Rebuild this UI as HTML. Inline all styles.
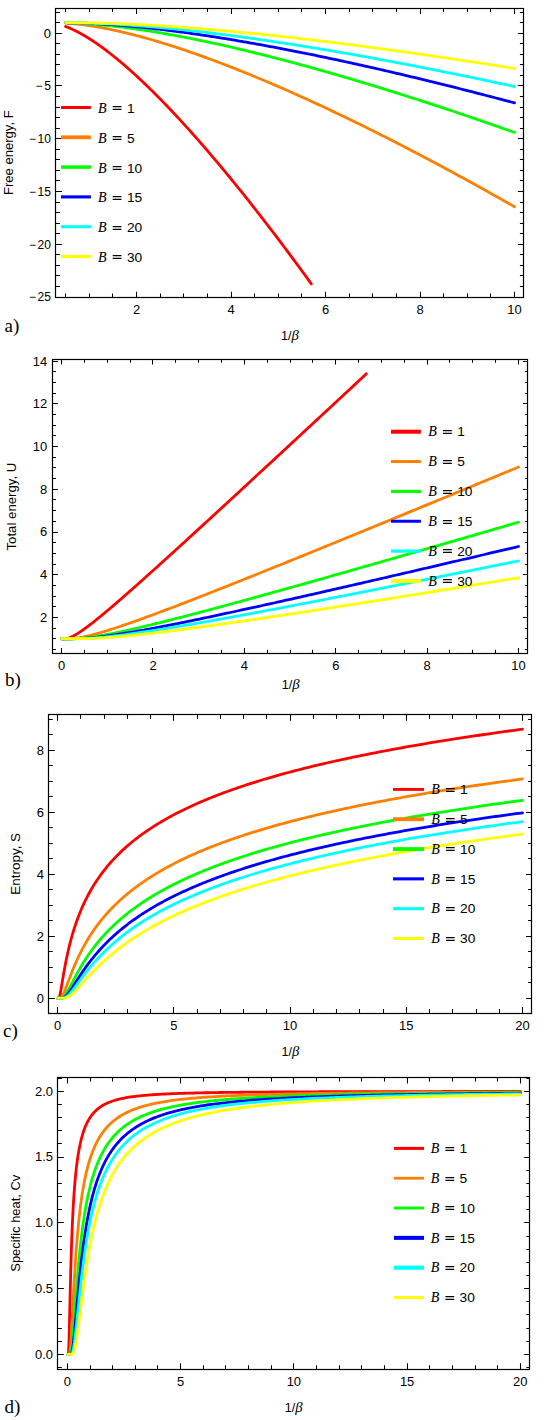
<!DOCTYPE html>
<html><head><meta charset="utf-8"><style>
html,body{margin:0;padding:0;background:#fff;}
svg{display:block;}
.t{font-family:"Liberation Sans",sans-serif;font-size:12px;fill:#000;}
.al{font-family:"Liberation Sans",sans-serif;font-size:12px;fill:#000;}
.beta{font-family:"Liberation Serif",serif;font-style:italic;font-size:14px;}
.pl{font-family:"Liberation Serif",serif;font-size:19px;fill:#000;}
.lg{font-family:"Liberation Sans",sans-serif;font-size:13px;fill:#000;}
.bi{font-family:"Liberation Serif",serif;font-style:italic;font-size:14px;fill:#000;stroke:#000;stroke-width:0.1px;}
</style></head><body>
<svg width="544" height="1420" viewBox="0 0 544 1420">
<rect width="544" height="1420" fill="#fff"/>
<clipPath id="clipa"><rect x="55.50" y="8.50" width="467.90" height="288.60"/></clipPath>
<g clip-path="url(#clipa)" fill="none" stroke-width="2.8" stroke-linejoin="round" stroke-linecap="round">
<path d="M65.62,26.51 L65.67,26.53 L65.76,26.56 L65.88,26.61 L66.03,26.66 L66.21,26.73 L66.40,26.80 L66.62,26.89 L66.86,26.98 L67.11,27.08 L67.39,27.18 L67.68,27.30 L67.98,27.42 L68.30,27.55 L68.64,27.69 L68.99,27.84 L69.36,27.99 L69.74,28.15 L70.13,28.32 L70.54,28.50 L70.96,28.68 L71.40,28.88 L71.84,29.08 L72.30,29.29 L72.77,29.50 L73.25,29.73 L73.75,29.96 L74.25,30.21 L74.77,30.46 L75.30,30.72 L75.84,30.99 L76.39,31.26 L76.95,31.55 L77.52,31.84 L78.10,32.15 L78.69,32.46 L79.30,32.78 L79.91,33.11 L80.53,33.45 L81.16,33.80 L81.81,34.16 L82.46,34.53 L83.12,34.91 L83.79,35.30 L84.47,35.70 L85.16,36.11 L85.86,36.52 L86.57,36.95 L87.29,37.39 L88.01,37.84 L88.75,38.30 L89.49,38.77 L90.25,39.25 L91.01,39.74 L91.78,40.24 L92.56,40.75 L93.35,41.27 L94.14,41.80 L94.95,42.34 L95.76,42.89 L96.58,43.46 L97.41,44.03 L98.25,44.62 L99.09,45.22 L99.95,45.82 L100.81,46.44 L101.68,47.07 L102.56,47.71 L103.44,48.36 L104.34,49.03 L105.24,49.70 L106.15,50.38 L107.07,51.08 L107.99,51.79 L108.92,52.51 L109.86,53.24 L110.81,53.98 L111.77,54.73 L112.73,55.50 L113.70,56.27 L114.67,57.06 L115.66,57.86 L116.65,58.67 L117.65,59.49 L118.66,60.33 L119.67,61.17 L120.69,62.03 L121.72,62.90 L122.76,63.78 L123.80,64.67 L124.85,65.58 L125.90,66.49 L126.97,67.42 L128.04,68.36 L129.11,69.31 L130.20,70.28 L131.29,71.25 L132.39,72.24 L133.49,73.24 L134.60,74.25 L135.72,75.27 L136.85,76.30 L137.98,77.35 L139.12,78.41 L140.26,79.48 L141.41,80.56 L142.57,81.66 L143.74,82.76 L144.91,83.88 L146.08,85.01 L147.27,86.16 L148.46,87.31 L149.66,88.48 L150.86,89.66 L152.07,90.85 L153.29,92.05 L154.51,93.27 L155.74,94.49 L156.97,95.73 L158.22,96.98 L159.46,98.25 L160.72,99.52 L161.98,100.81 L163.25,102.11 L164.52,103.43 L165.80,104.75 L167.08,106.09 L168.37,107.44 L169.67,108.80 L170.98,110.17 L172.29,111.56 L173.60,112.95 L174.92,114.36 L176.25,115.79 L177.58,117.22 L178.92,118.67 L180.27,120.12 L181.62,121.60 L182.98,123.08 L184.34,124.57 L185.71,126.08 L187.09,127.60 L188.47,129.13 L189.86,130.68 L191.25,132.24 L192.65,133.80 L194.05,135.38 L195.46,136.98 L196.88,138.58 L198.30,140.20 L199.73,141.83 L201.16,143.47 L202.60,145.13 L204.05,146.80 L205.50,148.47 L206.95,150.17 L208.41,151.87 L209.88,153.59 L211.35,155.31 L212.83,157.05 L214.32,158.81 L215.81,160.57 L217.30,162.35 L218.80,164.14 L220.31,165.94 L221.82,167.75 L223.34,169.58 L224.86,171.42 L226.39,173.27 L227.92,175.13 L229.46,177.00 L231.01,178.89 L232.56,180.79 L234.11,182.70 L235.67,184.63 L237.24,186.56 L238.81,188.51 L240.39,190.47 L241.97,192.44 L243.56,194.43 L245.15,196.43 L246.75,198.44 L248.35,200.46 L249.96,202.49 L251.58,204.54 L253.20,206.60 L254.82,208.67 L256.45,210.75 L258.09,212.84 L259.73,214.95 L261.37,217.07 L263.03,219.20 L264.68,221.35 L266.34,223.50 L268.01,225.67 L269.68,227.85 L271.36,230.04 L273.04,232.25 L274.73,234.46 L276.42,236.69 L278.12,238.93 L279.82,241.19 L281.53,243.45 L283.24,245.73 L284.96,248.02 L286.68,250.32 L288.41,252.64 L290.14,254.96 L291.88,257.30 L293.62,259.65 L295.37,262.01 L297.12,264.39 L298.88,266.78 L300.64,269.18 L302.41,271.59 L304.18,274.01 L305.96,276.45 L307.74,278.89 L309.53,281.35 L311.32,283.82" stroke="#ff0000"/>
<path d="M65.62,23.10 L65.71,23.11 L65.87,23.12 L66.09,23.13 L66.37,23.15 L66.69,23.17 L67.05,23.19 L67.44,23.22 L67.88,23.25 L68.34,23.28 L68.84,23.32 L69.37,23.36 L69.93,23.41 L70.52,23.45 L71.14,23.50 L71.78,23.56 L72.45,23.62 L73.14,23.68 L73.86,23.75 L74.61,23.82 L75.38,23.89 L76.17,23.98 L76.98,24.06 L77.82,24.15 L78.68,24.25 L79.56,24.35 L80.46,24.45 L81.39,24.57 L82.33,24.68 L83.30,24.81 L84.28,24.94 L85.29,25.07 L86.31,25.21 L87.35,25.36 L88.42,25.51 L89.50,25.67 L90.60,25.84 L91.72,26.01 L92.86,26.19 L94.01,26.38 L95.19,26.57 L96.38,26.77 L97.59,26.98 L98.81,27.19 L100.06,27.42 L101.32,27.64 L102.59,27.88 L103.89,28.13 L105.20,28.38 L106.53,28.64 L107.87,28.91 L109.23,29.18 L110.61,29.46 L112.00,29.75 L113.40,30.05 L114.83,30.36 L116.27,30.68 L117.72,31.00 L119.19,31.33 L120.68,31.67 L122.18,32.02 L123.69,32.38 L125.22,32.74 L126.77,33.11 L128.33,33.50 L129.91,33.89 L131.49,34.29 L133.10,34.69 L134.72,35.11 L136.35,35.54 L138.00,35.97 L139.66,36.41 L141.33,36.86 L143.02,37.33 L144.73,37.80 L146.44,38.27 L148.17,38.76 L149.92,39.26 L151.68,39.76 L153.45,40.28 L155.24,40.80 L157.03,41.33 L158.85,41.88 L160.67,42.43 L162.51,42.99 L164.36,43.56 L166.23,44.14 L168.11,44.72 L170.00,45.32 L171.90,45.93 L173.82,46.54 L175.75,47.17 L177.69,47.80 L179.65,48.45 L181.61,49.10 L183.60,49.76 L185.59,50.43 L187.59,51.12 L189.61,51.81 L191.64,52.51 L193.69,53.22 L195.74,53.94 L197.81,54.67 L199.89,55.40 L201.98,56.15 L204.08,56.91 L206.20,57.68 L208.33,58.45 L210.47,59.24 L212.62,60.03 L214.78,60.84 L216.96,61.65 L219.14,62.48 L221.34,63.31 L223.55,64.16 L225.78,65.01 L228.01,65.87 L230.26,66.74 L232.51,67.63 L234.78,68.52 L237.06,69.42 L239.35,70.33 L241.66,71.25 L243.97,72.18 L246.30,73.12 L248.63,74.07 L250.98,75.03 L253.34,76.00 L255.71,76.98 L258.09,77.97 L260.49,78.96 L262.89,79.97 L265.30,80.99 L267.73,82.02 L270.17,83.05 L272.61,84.10 L275.07,85.16 L277.54,86.22 L280.02,87.30 L282.51,88.38 L285.02,89.48 L287.53,90.59 L290.05,91.70 L292.59,92.82 L295.13,93.96 L297.69,95.10 L300.25,96.26 L302.83,97.42 L305.42,98.59 L308.01,99.78 L310.62,100.97 L313.24,102.17 L315.87,103.38 L318.51,104.61 L321.16,105.84 L323.82,107.08 L326.49,108.33 L329.17,109.59 L331.86,110.86 L334.56,112.14 L337.27,113.43 L339.99,114.73 L342.73,116.04 L345.47,117.36 L348.22,118.69 L350.98,120.03 L353.75,121.38 L356.54,122.73 L359.33,124.10 L362.13,125.48 L364.94,126.87 L367.77,128.26 L370.60,129.67 L373.44,131.09 L376.29,132.51 L379.15,133.95 L382.02,135.40 L384.91,136.85 L387.80,138.32 L390.70,139.79 L393.61,141.28 L396.53,142.77 L399.46,144.28 L402.40,145.79 L405.35,147.31 L408.31,148.85 L411.27,150.39 L414.25,151.94 L417.24,153.50 L420.24,155.08 L423.24,156.66 L426.26,158.25 L429.29,159.85 L432.32,161.46 L435.37,163.08 L438.42,164.71 L441.48,166.35 L444.56,168.00 L447.64,169.66 L450.73,171.33 L453.83,173.01 L456.94,174.70 L460.06,176.40 L463.19,178.10 L466.33,179.82 L469.48,181.55 L472.63,183.28 L475.80,185.03 L478.97,186.79 L482.16,188.55 L485.35,190.33 L488.55,192.11 L491.76,193.91 L494.99,195.71 L498.22,197.52 L501.45,199.35 L504.70,201.18 L507.96,203.02 L511.23,204.88 L514.50,206.74" stroke="#ff7f00"/>
<path d="M65.62,22.78 L65.71,22.79 L65.87,22.79 L66.09,22.79 L66.37,22.80 L66.69,22.81 L67.05,22.82 L67.44,22.83 L67.88,22.84 L68.34,22.85 L68.84,22.87 L69.37,22.88 L69.93,22.90 L70.52,22.92 L71.14,22.94 L71.78,22.96 L72.45,22.98 L73.14,23.01 L73.86,23.04 L74.61,23.07 L75.38,23.10 L76.17,23.14 L76.98,23.17 L77.82,23.21 L78.68,23.26 L79.56,23.30 L80.46,23.35 L81.39,23.40 L82.33,23.45 L83.30,23.51 L84.28,23.57 L85.29,23.63 L86.31,23.70 L87.35,23.77 L88.42,23.84 L89.50,23.92 L90.60,24.00 L91.72,24.08 L92.86,24.17 L94.01,24.26 L95.19,24.35 L96.38,24.45 L97.59,24.56 L98.81,24.66 L100.06,24.78 L101.32,24.89 L102.59,25.01 L103.89,25.14 L105.20,25.26 L106.53,25.40 L107.87,25.53 L109.23,25.68 L110.61,25.82 L112.00,25.98 L113.40,26.13 L114.83,26.29 L116.27,26.46 L117.72,26.63 L119.19,26.81 L120.68,26.99 L122.18,27.17 L123.69,27.36 L125.22,27.56 L126.77,27.76 L128.33,27.97 L129.91,28.18 L131.49,28.39 L133.10,28.62 L134.72,28.84 L136.35,29.08 L138.00,29.31 L139.66,29.56 L141.33,29.81 L143.02,30.06 L144.73,30.32 L146.44,30.58 L148.17,30.86 L149.92,31.13 L151.68,31.41 L153.45,31.70 L155.24,31.99 L157.03,32.29 L158.85,32.60 L160.67,32.91 L162.51,33.22 L164.36,33.54 L166.23,33.87 L168.11,34.20 L170.00,34.54 L171.90,34.89 L173.82,35.24 L175.75,35.59 L177.69,35.96 L179.65,36.33 L181.61,36.70 L183.60,37.08 L185.59,37.47 L187.59,37.86 L189.61,38.25 L191.64,38.66 L193.69,39.07 L195.74,39.48 L197.81,39.91 L199.89,40.33 L201.98,40.77 L204.08,41.21 L206.20,41.65 L208.33,42.11 L210.47,42.56 L212.62,43.03 L214.78,43.50 L216.96,43.98 L219.14,44.46 L221.34,44.95 L223.55,45.44 L225.78,45.94 L228.01,46.45 L230.26,46.96 L232.51,47.48 L234.78,48.01 L237.06,48.54 L239.35,49.08 L241.66,49.62 L243.97,50.17 L246.30,50.73 L248.63,51.29 L250.98,51.86 L253.34,52.44 L255.71,53.02 L258.09,53.61 L260.49,54.20 L262.89,54.80 L265.30,55.41 L267.73,56.02 L270.17,56.64 L272.61,57.27 L275.07,57.90 L277.54,58.54 L280.02,59.18 L282.51,59.83 L285.02,60.49 L287.53,61.15 L290.05,61.82 L292.59,62.50 L295.13,63.18 L297.69,63.87 L300.25,64.56 L302.83,65.26 L305.42,65.97 L308.01,66.68 L310.62,67.40 L313.24,68.13 L315.87,68.86 L318.51,69.60 L321.16,70.35 L323.82,71.10 L326.49,71.86 L329.17,72.62 L331.86,73.39 L334.56,74.17 L337.27,74.95 L339.99,75.74 L342.73,76.54 L345.47,77.34 L348.22,78.15 L350.98,78.96 L353.75,79.78 L356.54,80.61 L359.33,81.45 L362.13,82.29 L364.94,83.13 L367.77,83.99 L370.60,84.85 L373.44,85.71 L376.29,86.59 L379.15,87.46 L382.02,88.35 L384.91,89.24 L387.80,90.14 L390.70,91.04 L393.61,91.95 L396.53,92.87 L399.46,93.79 L402.40,94.72 L405.35,95.66 L408.31,96.60 L411.27,97.55 L414.25,98.50 L417.24,99.47 L420.24,100.43 L423.24,101.41 L426.26,102.39 L429.29,103.38 L432.32,104.37 L435.37,105.37 L438.42,106.37 L441.48,107.39 L444.56,108.41 L447.64,109.43 L450.73,110.46 L453.83,111.50 L456.94,112.54 L460.06,113.59 L463.19,114.65 L466.33,115.71 L469.48,116.78 L472.63,117.86 L475.80,118.94 L478.97,120.03 L482.16,121.12 L485.35,122.23 L488.55,123.33 L491.76,124.45 L494.99,125.57 L498.22,126.69 L501.45,127.83 L504.70,128.97 L507.96,130.11 L511.23,131.26 L514.50,132.42" stroke="#00ff00"/>
<path d="M65.62,22.71 L65.71,22.71 L65.87,22.71 L66.09,22.71 L66.37,22.72 L66.69,22.72 L67.05,22.72 L67.44,22.73 L67.88,22.74 L68.34,22.74 L68.84,22.75 L69.37,22.76 L69.93,22.77 L70.52,22.78 L71.14,22.79 L71.78,22.80 L72.45,22.81 L73.14,22.83 L73.86,22.84 L74.61,22.86 L75.38,22.88 L76.17,22.90 L76.98,22.92 L77.82,22.94 L78.68,22.97 L79.56,22.99 L80.46,23.02 L81.39,23.05 L82.33,23.08 L83.30,23.12 L84.28,23.15 L85.29,23.19 L86.31,23.23 L87.35,23.27 L88.42,23.32 L89.50,23.37 L90.60,23.42 L91.72,23.47 L92.86,23.52 L94.01,23.58 L95.19,23.64 L96.38,23.70 L97.59,23.77 L98.81,23.84 L100.06,23.91 L101.32,23.98 L102.59,24.06 L103.89,24.14 L105.20,24.23 L106.53,24.31 L107.87,24.40 L109.23,24.50 L110.61,24.59 L112.00,24.69 L113.40,24.80 L114.83,24.90 L116.27,25.02 L117.72,25.13 L119.19,25.25 L120.68,25.37 L122.18,25.49 L123.69,25.62 L125.22,25.75 L126.77,25.89 L128.33,26.03 L129.91,26.17 L131.49,26.32 L133.10,26.47 L134.72,26.63 L136.35,26.79 L138.00,26.95 L139.66,27.12 L141.33,27.29 L143.02,27.46 L144.73,27.64 L146.44,27.83 L148.17,28.01 L149.92,28.21 L151.68,28.40 L153.45,28.60 L155.24,28.81 L157.03,29.02 L158.85,29.23 L160.67,29.44 L162.51,29.67 L164.36,29.89 L166.23,30.12 L168.11,30.36 L170.00,30.59 L171.90,30.84 L173.82,31.09 L175.75,31.34 L177.69,31.59 L179.65,31.85 L181.61,32.12 L183.60,32.39 L185.59,32.66 L187.59,32.94 L189.61,33.22 L191.64,33.51 L193.69,33.80 L195.74,34.10 L197.81,34.40 L199.89,34.71 L201.98,35.02 L204.08,35.33 L206.20,35.65 L208.33,35.98 L210.47,36.31 L212.62,36.64 L214.78,36.98 L216.96,37.32 L219.14,37.67 L221.34,38.02 L223.55,38.38 L225.78,38.74 L228.01,39.11 L230.26,39.48 L232.51,39.85 L234.78,40.23 L237.06,40.62 L239.35,41.01 L241.66,41.40 L243.97,41.80 L246.30,42.21 L248.63,42.62 L250.98,43.03 L253.34,43.45 L255.71,43.87 L258.09,44.30 L260.49,44.73 L262.89,45.17 L265.30,45.62 L267.73,46.06 L270.17,46.52 L272.61,46.97 L275.07,47.43 L277.54,47.90 L280.02,48.37 L282.51,48.85 L285.02,49.33 L287.53,49.82 L290.05,50.31 L292.59,50.80 L295.13,51.30 L297.69,51.81 L300.25,52.32 L302.83,52.84 L305.42,53.36 L308.01,53.88 L310.62,54.41 L313.24,54.95 L315.87,55.49 L318.51,56.03 L321.16,56.58 L323.82,57.13 L326.49,57.69 L329.17,58.26 L331.86,58.83 L334.56,59.40 L337.27,59.98 L339.99,60.56 L342.73,61.15 L345.47,61.75 L348.22,62.35 L350.98,62.95 L353.75,63.56 L356.54,64.17 L359.33,64.79 L362.13,65.41 L364.94,66.04 L367.77,66.68 L370.60,67.31 L373.44,67.96 L376.29,68.60 L379.15,69.26 L382.02,69.92 L384.91,70.58 L387.80,71.25 L390.70,71.92 L393.61,72.60 L396.53,73.28 L399.46,73.97 L402.40,74.66 L405.35,75.36 L408.31,76.06 L411.27,76.77 L414.25,77.48 L417.24,78.20 L420.24,78.92 L423.24,79.65 L426.26,80.38 L429.29,81.11 L432.32,81.86 L435.37,82.60 L438.42,83.36 L441.48,84.11 L444.56,84.87 L447.64,85.64 L450.73,86.41 L453.83,87.19 L456.94,87.97 L460.06,88.76 L463.19,89.55 L466.33,90.35 L469.48,91.15 L472.63,91.95 L475.80,92.77 L478.97,93.58 L482.16,94.40 L485.35,95.23 L488.55,96.06 L491.76,96.90 L494.99,97.74 L498.22,98.58 L501.45,99.43 L504.70,100.29 L507.96,101.15 L511.23,102.02 L514.50,102.89" stroke="#0000ff"/>
<path d="M65.62,22.68 L65.71,22.68 L65.87,22.68 L66.09,22.68 L66.37,22.68 L66.69,22.69 L67.05,22.69 L67.44,22.69 L67.88,22.69 L68.34,22.70 L68.84,22.70 L69.37,22.71 L69.93,22.71 L70.52,22.72 L71.14,22.73 L71.78,22.73 L72.45,22.74 L73.14,22.75 L73.86,22.76 L74.61,22.77 L75.38,22.78 L76.17,22.80 L76.98,22.81 L77.82,22.82 L78.68,22.84 L79.56,22.86 L80.46,22.88 L81.39,22.90 L82.33,22.92 L83.30,22.94 L84.28,22.96 L85.29,22.99 L86.31,23.02 L87.35,23.05 L88.42,23.08 L89.50,23.11 L90.60,23.15 L91.72,23.18 L92.86,23.22 L94.01,23.26 L95.19,23.30 L96.38,23.35 L97.59,23.39 L98.81,23.44 L100.06,23.49 L101.32,23.55 L102.59,23.60 L103.89,23.66 L105.20,23.72 L106.53,23.79 L107.87,23.85 L109.23,23.92 L110.61,23.99 L112.00,24.06 L113.40,24.14 L114.83,24.22 L116.27,24.30 L117.72,24.38 L119.19,24.47 L120.68,24.56 L122.18,24.65 L123.69,24.75 L125.22,24.85 L126.77,24.95 L128.33,25.05 L129.91,25.16 L131.49,25.27 L133.10,25.39 L134.72,25.50 L136.35,25.62 L138.00,25.75 L139.66,25.87 L141.33,26.00 L143.02,26.14 L144.73,26.27 L146.44,26.41 L148.17,26.55 L149.92,26.70 L151.68,26.85 L153.45,27.00 L155.24,27.16 L157.03,27.32 L158.85,27.48 L160.67,27.65 L162.51,27.82 L164.36,27.99 L166.23,28.17 L168.11,28.35 L170.00,28.53 L171.90,28.72 L173.82,28.91 L175.75,29.11 L177.69,29.31 L179.65,29.51 L181.61,29.71 L183.60,29.92 L185.59,30.14 L187.59,30.35 L189.61,30.57 L191.64,30.80 L193.69,31.03 L195.74,31.26 L197.81,31.49 L199.89,31.73 L201.98,31.97 L204.08,32.22 L206.20,32.47 L208.33,32.73 L210.47,32.98 L212.62,33.25 L214.78,33.51 L216.96,33.78 L219.14,34.05 L221.34,34.33 L223.55,34.61 L225.78,34.90 L228.01,35.19 L230.26,35.48 L232.51,35.77 L234.78,36.07 L237.06,36.38 L239.35,36.69 L241.66,37.00 L243.97,37.32 L246.30,37.64 L248.63,37.96 L250.98,38.29 L253.34,38.62 L255.71,38.95 L258.09,39.29 L260.49,39.64 L262.89,39.99 L265.30,40.34 L267.73,40.69 L270.17,41.05 L272.61,41.42 L275.07,41.78 L277.54,42.15 L280.02,42.53 L282.51,42.91 L285.02,43.29 L287.53,43.68 L290.05,44.07 L292.59,44.47 L295.13,44.87 L297.69,45.27 L300.25,45.68 L302.83,46.09 L305.42,46.51 L308.01,46.93 L310.62,47.35 L313.24,47.78 L315.87,48.21 L318.51,48.65 L321.16,49.09 L323.82,49.53 L326.49,49.98 L329.17,50.43 L331.86,50.89 L334.56,51.35 L337.27,51.82 L339.99,52.28 L342.73,52.76 L345.47,53.23 L348.22,53.72 L350.98,54.20 L353.75,54.69 L356.54,55.18 L359.33,55.68 L362.13,56.18 L364.94,56.69 L367.77,57.20 L370.60,57.71 L373.44,58.23 L376.29,58.75 L379.15,59.28 L382.02,59.81 L384.91,60.34 L387.80,60.88 L390.70,61.42 L393.61,61.97 L396.53,62.52 L399.46,63.08 L402.40,63.64 L405.35,64.20 L408.31,64.77 L411.27,65.34 L414.25,65.92 L417.24,66.50 L420.24,67.08 L423.24,67.67 L426.26,68.26 L429.29,68.86 L432.32,69.46 L435.37,70.06 L438.42,70.67 L441.48,71.28 L444.56,71.90 L447.64,72.52 L450.73,73.15 L453.83,73.78 L456.94,74.41 L460.06,75.05 L463.19,75.69 L466.33,76.34 L469.48,76.99 L472.63,77.64 L475.80,78.30 L478.97,78.96 L482.16,79.63 L485.35,80.30 L488.55,80.98 L491.76,81.66 L494.99,82.34 L498.22,83.03 L501.45,83.72 L504.70,84.42 L507.96,85.12 L511.23,85.82 L514.50,86.53" stroke="#00ffff"/>
<path d="M65.62,22.66 L65.71,22.66 L65.87,22.66 L66.09,22.66 L66.37,22.66 L66.69,22.66 L67.05,22.66 L67.44,22.66 L67.88,22.67 L68.34,22.67 L68.84,22.67 L69.37,22.67 L69.93,22.67 L70.52,22.68 L71.14,22.68 L71.78,22.68 L72.45,22.69 L73.14,22.69 L73.86,22.70 L74.61,22.70 L75.38,22.71 L76.17,22.71 L76.98,22.72 L77.82,22.73 L78.68,22.74 L79.56,22.74 L80.46,22.75 L81.39,22.77 L82.33,22.78 L83.30,22.79 L84.28,22.80 L85.29,22.82 L86.31,22.83 L87.35,22.85 L88.42,22.86 L89.50,22.88 L90.60,22.90 L91.72,22.92 L92.86,22.95 L94.01,22.97 L95.19,22.99 L96.38,23.02 L97.59,23.05 L98.81,23.08 L100.06,23.11 L101.32,23.14 L102.59,23.17 L103.89,23.21 L105.20,23.25 L106.53,23.28 L107.87,23.33 L109.23,23.37 L110.61,23.41 L112.00,23.46 L113.40,23.50 L114.83,23.55 L116.27,23.61 L117.72,23.66 L119.19,23.71 L120.68,23.77 L122.18,23.83 L123.69,23.89 L125.22,23.96 L126.77,24.02 L128.33,24.09 L129.91,24.16 L131.49,24.23 L133.10,24.31 L134.72,24.38 L136.35,24.46 L138.00,24.54 L139.66,24.63 L141.33,24.71 L143.02,24.80 L144.73,24.89 L146.44,24.98 L148.17,25.08 L149.92,25.18 L151.68,25.28 L153.45,25.38 L155.24,25.48 L157.03,25.59 L158.85,25.70 L160.67,25.81 L162.51,25.93 L164.36,26.05 L166.23,26.17 L168.11,26.29 L170.00,26.42 L171.90,26.55 L173.82,26.68 L175.75,26.81 L177.69,26.95 L179.65,27.08 L181.61,27.23 L183.60,27.37 L185.59,27.52 L187.59,27.67 L189.61,27.82 L191.64,27.98 L193.69,28.13 L195.74,28.29 L197.81,28.46 L199.89,28.62 L201.98,28.79 L204.08,28.97 L206.20,29.14 L208.33,29.32 L210.47,29.50 L212.62,29.68 L214.78,29.87 L216.96,30.06 L219.14,30.25 L221.34,30.45 L223.55,30.64 L225.78,30.84 L228.01,31.05 L230.26,31.25 L232.51,31.46 L234.78,31.68 L237.06,31.89 L239.35,32.11 L241.66,32.33 L243.97,32.56 L246.30,32.78 L248.63,33.01 L250.98,33.25 L253.34,33.48 L255.71,33.72 L258.09,33.97 L260.49,34.21 L262.89,34.46 L265.30,34.71 L267.73,34.97 L270.17,35.22 L272.61,35.48 L275.07,35.75 L277.54,36.01 L280.02,36.28 L282.51,36.56 L285.02,36.83 L287.53,37.11 L290.05,37.39 L292.59,37.68 L295.13,37.97 L297.69,38.26 L300.25,38.55 L302.83,38.85 L305.42,39.15 L308.01,39.45 L310.62,39.76 L313.24,40.07 L315.87,40.38 L318.51,40.70 L321.16,41.02 L323.82,41.34 L326.49,41.66 L329.17,41.99 L331.86,42.32 L334.56,42.66 L337.27,43.00 L339.99,43.34 L342.73,43.68 L345.47,44.03 L348.22,44.38 L350.98,44.73 L353.75,45.09 L356.54,45.45 L359.33,45.81 L362.13,46.18 L364.94,46.55 L367.77,46.92 L370.60,47.30 L373.44,47.68 L376.29,48.06 L379.15,48.44 L382.02,48.83 L384.91,49.23 L387.80,49.62 L390.70,50.02 L393.61,50.42 L396.53,50.82 L399.46,51.23 L402.40,51.64 L405.35,52.06 L408.31,52.47 L411.27,52.89 L414.25,53.32 L417.24,53.74 L420.24,54.17 L423.24,54.61 L426.26,55.04 L429.29,55.48 L432.32,55.93 L435.37,56.37 L438.42,56.82 L441.48,57.27 L444.56,57.73 L447.64,58.19 L450.73,58.65 L453.83,59.11 L456.94,59.58 L460.06,60.05 L463.19,60.53 L466.33,61.01 L469.48,61.49 L472.63,61.97 L475.80,62.46 L478.97,62.95 L482.16,63.44 L485.35,63.94 L488.55,64.44 L491.76,64.95 L494.99,65.45 L498.22,65.96 L501.45,66.48 L504.70,66.99 L507.96,67.51 L511.23,68.04 L514.50,68.56" stroke="#ffff00"/>
</g>
<path d="M136.50,297.10V291.70M136.50,8.50V13.90M231.50,297.10V291.70M231.50,8.50V13.90M325.50,297.10V291.70M325.50,8.50V13.90M420.50,297.10V291.70M420.50,8.50V13.90M514.50,297.10V291.70M514.50,8.50V13.90M65.50,297.10V293.60M65.50,8.50V12.00M89.50,297.10V293.60M89.50,8.50V12.00M112.50,297.10V293.60M112.50,8.50V12.00M160.50,297.10V293.60M160.50,8.50V12.00M183.50,297.10V293.60M183.50,8.50V12.00M207.50,297.10V293.60M207.50,8.50V12.00M254.50,297.10V293.60M254.50,8.50V12.00M278.50,297.10V293.60M278.50,8.50V12.00M301.50,297.10V293.60M301.50,8.50V12.00M349.50,297.10V293.60M349.50,8.50V12.00M372.50,297.10V293.60M372.50,8.50V12.00M396.50,297.10V293.60M396.50,8.50V12.00M443.50,297.10V293.60M443.50,8.50V12.00M467.50,297.10V293.60M467.50,8.50V12.00M490.50,297.10V293.60M490.50,8.50V12.00M55.50,297.50H61.90M523.40,297.50H517.90M55.50,244.50H61.90M523.40,244.50H517.90M55.50,191.50H61.90M523.40,191.50H517.90M55.50,138.50H61.90M523.40,138.50H517.90M55.50,85.50H61.90M523.40,85.50H517.90M55.50,33.50H61.90M523.40,33.50H517.90M55.50,286.50H59.90M523.40,286.50H519.90M55.50,275.50H59.90M523.40,275.50H519.90M55.50,265.50H59.90M523.40,265.50H519.90M55.50,254.50H59.90M523.40,254.50H519.90M55.50,233.50H59.90M523.40,233.50H519.90M55.50,223.50H59.90M523.40,223.50H519.90M55.50,212.50H59.90M523.40,212.50H519.90M55.50,202.50H59.90M523.40,202.50H519.90M55.50,180.50H59.90M523.40,180.50H519.90M55.50,170.50H59.90M523.40,170.50H519.90M55.50,159.50H59.90M523.40,159.50H519.90M55.50,149.50H59.90M523.40,149.50H519.90M55.50,128.50H59.90M523.40,128.50H519.90M55.50,117.50H59.90M523.40,117.50H519.90M55.50,107.50H59.90M523.40,107.50H519.90M55.50,96.50H59.90M523.40,96.50H519.90M55.50,75.50H59.90M523.40,75.50H519.90M55.50,64.50H59.90M523.40,64.50H519.90M55.50,54.50H59.90M523.40,54.50H519.90M55.50,43.50H59.90M523.40,43.50H519.90M55.50,22.50H59.90M523.40,22.50H519.90M55.50,12.50H59.90M523.40,12.50H519.90" stroke="#000" stroke-width="1.05" fill="none"/>
<rect x="55.50" y="8.50" width="468.00" height="289.00" fill="none" stroke="#000" stroke-width="1.2"/>
<text transform="translate(136.50,314.10) scale(1.080,1)" text-anchor="middle" class="t">2</text>
<text transform="translate(231.00,314.10) scale(1.080,1)" text-anchor="middle" class="t">4</text>
<text transform="translate(325.50,314.10) scale(1.080,1)" text-anchor="middle" class="t">6</text>
<text transform="translate(420.00,314.10) scale(1.080,1)" text-anchor="middle" class="t">8</text>
<text transform="translate(514.50,314.10) scale(1.080,1)" text-anchor="middle" class="t">10</text>
<text transform="translate(50.90,301.30) scale(1.000,1)" text-anchor="end" class="t">−<tspan dx="1.6">25</tspan></text>
<text transform="translate(50.90,248.54) scale(1.000,1)" text-anchor="end" class="t">−<tspan dx="1.6">20</tspan></text>
<text transform="translate(50.90,195.78) scale(1.000,1)" text-anchor="end" class="t">−<tspan dx="1.6">15</tspan></text>
<text transform="translate(50.90,143.02) scale(1.000,1)" text-anchor="end" class="t">−<tspan dx="1.6">10</tspan></text>
<text transform="translate(50.90,90.26) scale(1.000,1)" text-anchor="end" class="t">−<tspan dx="1.6">5</tspan></text>
<text transform="translate(50.90,37.50) scale(1.080,1)" text-anchor="end" class="t">0</text>
<text transform="translate(289.80,339.60) scale(1.05,1)" text-anchor="middle" class="t">1/<tspan class="beta">β</tspan></text>
<text transform="translate(12.60,152.70) rotate(-90) scale(1.090,1)" text-anchor="middle" class="al">Free energy, F</text>
<text x="4.50" y="332.00" class="pl">a)</text>
<path d="M61.00,107.50H90.90" stroke="#ff0000" stroke-width="3.00"/>
<text x="98.00" y="112.90" class="bi">B</text>
<path d="M112.70,106.00H121.50v1.3H112.70z M112.70,108.70H121.50v1.3H112.70z" fill="#000"/>
<text transform="translate(126.90,112.90) scale(1.060,1)" text-anchor="start" class="lg">1</text>
<path d="M61.00,137.30H90.90" stroke="#ff7f00" stroke-width="3.80"/>
<text x="98.00" y="142.70" class="bi">B</text>
<path d="M112.70,136.00H121.50v1.3H112.70z M112.70,138.70H121.50v1.3H112.70z" fill="#000"/>
<text transform="translate(126.90,142.70) scale(1.060,1)" text-anchor="start" class="lg">5</text>
<path d="M61.00,167.10H90.90" stroke="#00ff00" stroke-width="3.50"/>
<text x="98.00" y="172.50" class="bi">B</text>
<path d="M112.70,166.00H121.50v1.3H112.70z M112.70,168.70H121.50v1.3H112.70z" fill="#000"/>
<text transform="translate(126.90,172.50) scale(1.060,1)" text-anchor="start" class="lg">10</text>
<path d="M61.00,196.90H90.90" stroke="#0000ff" stroke-width="3.10"/>
<text x="98.00" y="202.30" class="bi">B</text>
<path d="M112.70,196.00H121.50v1.3H112.70z M112.70,198.70H121.50v1.3H112.70z" fill="#000"/>
<text transform="translate(126.90,202.30) scale(1.060,1)" text-anchor="start" class="lg">15</text>
<path d="M61.00,226.70H90.90" stroke="#00ffff" stroke-width="3.10"/>
<text x="98.00" y="232.10" class="bi">B</text>
<path d="M112.70,226.00H121.50v1.3H112.70z M112.70,228.70H121.50v1.3H112.70z" fill="#000"/>
<text transform="translate(126.90,232.10) scale(1.060,1)" text-anchor="start" class="lg">20</text>
<path d="M61.00,256.50H90.90" stroke="#ffff00" stroke-width="3.20"/>
<text x="98.00" y="261.90" class="bi">B</text>
<path d="M112.70,255.00H121.50v1.3H112.70z M112.70,257.70H121.50v1.3H112.70z" fill="#000"/>
<text transform="translate(126.90,261.90) scale(1.060,1)" text-anchor="start" class="lg">30</text>
<clipPath id="clipb"><rect x="52.55" y="359.40" width="474.85" height="293.70"/></clipPath>
<g clip-path="url(#clipb)" fill="none" stroke-width="2.8" stroke-linejoin="round" stroke-linecap="round">
<path d="M61.65,638.75 L61.70,638.75 L61.81,638.75 L61.96,638.75 L62.15,638.75 L62.37,638.75 L62.61,638.75 L62.88,638.75 L63.17,638.75 L63.49,638.75 L63.83,638.75 L64.19,638.74 L64.57,638.73 L64.97,638.72 L65.39,638.69 L65.82,638.64 L66.28,638.58 L66.75,638.51 L67.24,638.41 L67.74,638.28 L68.27,638.14 L68.80,637.97 L69.36,637.78 L69.92,637.57 L70.51,637.34 L71.11,637.08 L71.72,636.80 L72.34,636.50 L72.99,636.18 L73.64,635.84 L74.31,635.47 L74.99,635.09 L75.69,634.69 L76.40,634.26 L77.12,633.82 L77.85,633.36 L78.60,632.89 L79.36,632.39 L80.13,631.88 L80.92,631.35 L81.71,630.80 L82.52,630.24 L83.34,629.66 L84.17,629.07 L85.02,628.46 L85.87,627.83 L86.74,627.19 L87.62,626.54 L88.51,625.87 L89.41,625.18 L90.32,624.48 L91.25,623.77 L92.18,623.04 L93.12,622.30 L94.08,621.55 L95.05,620.78 L96.02,620.00 L97.01,619.21 L98.01,618.40 L99.02,617.58 L100.04,616.75 L101.06,615.91 L102.10,615.05 L103.15,614.18 L104.21,613.30 L105.28,612.41 L106.36,611.51 L107.45,610.59 L108.55,609.67 L109.66,608.73 L110.77,607.78 L111.90,606.82 L113.04,605.85 L114.19,604.87 L115.34,603.87 L116.51,602.87 L117.68,601.86 L118.87,600.83 L120.06,599.80 L121.26,598.75 L122.48,597.70 L123.70,596.63 L124.93,595.56 L126.17,594.47 L127.41,593.38 L128.67,592.27 L129.94,591.16 L131.21,590.03 L132.50,588.90 L133.79,587.76 L135.09,586.60 L136.40,585.44 L137.72,584.27 L139.05,583.09 L140.38,581.90 L141.73,580.70 L143.08,579.49 L144.44,578.27 L145.81,577.05 L147.19,575.81 L148.58,574.57 L149.97,573.32 L151.37,572.06 L152.79,570.79 L154.21,569.51 L155.63,568.22 L157.07,566.92 L158.51,565.62 L159.97,564.31 L161.43,562.99 L162.90,561.66 L164.37,560.32 L165.86,558.98 L167.35,557.62 L168.85,556.26 L170.36,554.89 L171.88,553.51 L173.40,552.13 L174.93,550.73 L176.47,549.33 L178.02,547.92 L179.58,546.50 L181.14,545.08 L182.71,543.64 L184.29,542.20 L185.88,540.75 L187.47,539.30 L189.07,537.83 L190.68,536.36 L192.30,534.88 L193.92,533.40 L195.55,531.90 L197.19,530.40 L198.84,528.89 L200.49,527.38 L202.16,525.85 L203.82,524.32 L205.50,522.78 L207.18,521.24 L208.88,519.68 L210.57,518.12 L212.28,516.55 L213.99,514.98 L215.71,513.40 L217.44,511.81 L219.17,510.21 L220.92,508.61 L222.67,507.00 L224.42,505.38 L226.18,503.76 L227.96,502.12 L229.73,500.49 L231.52,498.84 L233.31,497.19 L235.11,495.53 L236.91,493.86 L238.73,492.19 L240.55,490.51 L242.37,488.82 L244.21,487.13 L246.05,485.43 L247.89,483.72 L249.75,482.01 L251.61,480.29 L253.48,478.56 L255.35,476.83 L257.23,475.09 L259.12,473.34 L261.02,471.59 L262.92,469.83 L264.83,468.06 L266.75,466.29 L268.67,464.51 L270.60,462.72 L272.53,460.93 L274.48,459.13 L276.42,457.33 L278.38,455.52 L280.34,453.70 L282.31,451.87 L284.29,450.04 L286.27,448.20 L288.26,446.36 L290.25,444.51 L292.26,442.65 L294.27,440.79 L296.28,438.92 L298.30,437.05 L300.33,435.17 L302.36,433.28 L304.41,431.38 L306.45,429.48 L308.51,427.58 L310.57,425.67 L312.63,423.75 L314.71,421.82 L316.79,419.89 L318.87,417.96 L320.97,416.01 L323.06,414.06 L325.17,412.11 L327.28,410.15 L329.40,408.18 L331.52,406.21 L333.65,404.23 L335.79,402.24 L337.93,400.25 L340.08,398.25 L342.24,396.25 L344.40,394.24 L346.57,392.23 L348.74,390.21 L350.92,388.18 L353.11,386.15 L355.30,384.11 L357.50,382.06 L359.70,380.01 L361.91,377.96 L364.13,375.89 L366.35,373.83" stroke="#ff0000"/>
<path d="M61.65,638.75 L61.73,638.75 L61.89,638.75 L62.12,638.75 L62.40,638.75 L62.73,638.75 L63.09,638.75 L63.50,638.75 L63.94,638.75 L64.41,638.75 L64.92,638.75 L65.46,638.75 L66.03,638.75 L66.63,638.75 L67.25,638.75 L67.91,638.74 L68.59,638.73 L69.30,638.71 L70.03,638.69 L70.79,638.66 L71.57,638.62 L72.38,638.56 L73.21,638.50 L74.06,638.42 L74.93,638.33 L75.83,638.23 L76.75,638.11 L77.69,637.98 L78.65,637.83 L79.63,637.67 L80.63,637.50 L81.66,637.31 L82.70,637.11 L83.76,636.90 L84.84,636.67 L85.94,636.43 L87.06,636.18 L88.20,635.91 L89.36,635.63 L90.54,635.34 L91.73,635.04 L92.94,634.73 L94.17,634.40 L95.42,634.06 L96.69,633.72 L97.97,633.36 L99.27,632.98 L100.59,632.60 L101.92,632.21 L103.27,631.81 L104.64,631.40 L106.02,630.97 L107.43,630.54 L108.84,630.10 L110.27,629.64 L111.72,629.18 L113.19,628.71 L114.67,628.23 L116.17,627.74 L117.68,627.24 L119.20,626.73 L120.75,626.21 L122.30,625.69 L123.88,625.15 L125.47,624.61 L127.07,624.05 L128.69,623.49 L130.32,622.92 L131.97,622.35 L133.63,621.76 L135.30,621.17 L137.00,620.56 L138.70,619.95 L140.42,619.34 L142.15,618.71 L143.90,618.08 L145.66,617.44 L147.44,616.79 L149.23,616.13 L151.03,615.47 L152.85,614.80 L154.68,614.12 L156.52,613.44 L158.38,612.74 L160.25,612.04 L162.14,611.34 L164.04,610.62 L165.95,609.90 L167.87,609.18 L169.81,608.44 L171.76,607.70 L173.73,606.95 L175.70,606.20 L177.69,605.44 L179.70,604.67 L181.71,603.90 L183.74,603.12 L185.78,602.33 L187.84,601.54 L189.90,600.74 L191.98,599.93 L194.07,599.12 L196.18,598.30 L198.29,597.47 L200.42,596.64 L202.56,595.81 L204.72,594.96 L206.88,594.12 L209.06,593.26 L211.25,592.40 L213.45,591.53 L215.67,590.66 L217.89,589.78 L220.13,588.90 L222.38,588.01 L224.64,587.11 L226.92,586.21 L229.20,585.30 L231.50,584.39 L233.81,583.47 L236.13,582.55 L238.46,581.62 L240.81,580.68 L243.16,579.74 L245.53,578.80 L247.91,577.85 L250.30,576.89 L252.70,575.93 L255.11,574.96 L257.53,573.99 L259.97,573.01 L262.42,572.03 L264.87,571.04 L267.34,570.04 L269.82,569.04 L272.31,568.04 L274.82,567.03 L277.33,566.02 L279.86,565.00 L282.39,563.97 L284.94,562.94 L287.49,561.91 L290.06,560.87 L292.64,559.82 L295.23,558.77 L297.83,557.72 L300.44,556.66 L303.07,555.59 L305.70,554.52 L308.34,553.45 L311.00,552.37 L313.66,551.29 L316.34,550.20 L319.02,549.10 L321.72,548.00 L324.43,546.90 L327.15,545.79 L329.88,544.68 L332.61,543.56 L335.36,542.44 L338.12,541.31 L340.89,540.18 L343.67,539.05 L346.46,537.90 L349.26,536.76 L352.08,535.61 L354.90,534.45 L357.73,533.30 L360.57,532.13 L363.42,530.96 L366.28,529.79 L369.16,528.61 L372.04,527.43 L374.93,526.24 L377.83,525.05 L380.75,523.86 L383.67,522.66 L386.60,521.45 L389.54,520.25 L392.50,519.03 L395.46,517.82 L398.43,516.59 L401.41,515.37 L404.40,514.14 L407.41,512.90 L410.42,511.66 L413.44,510.42 L416.47,509.17 L419.51,507.92 L422.56,506.66 L425.62,505.40 L428.69,504.14 L431.77,502.87 L434.86,501.60 L437.96,500.32 L441.07,499.04 L444.19,497.75 L447.31,496.46 L450.45,495.17 L453.60,493.87 L456.75,492.57 L459.92,491.26 L463.09,489.95 L466.28,488.63 L469.47,487.31 L472.68,485.99 L475.89,484.66 L479.11,483.33 L482.34,482.00 L485.58,480.66 L488.83,479.31 L492.09,477.97 L495.36,476.62 L498.64,475.26 L501.93,473.90 L505.22,472.54 L508.53,471.17 L511.84,469.80 L515.17,468.42 L518.50,467.04" stroke="#ff7f00"/>
<path d="M61.65,638.75 L61.73,638.75 L61.89,638.75 L62.12,638.75 L62.40,638.75 L62.73,638.75 L63.09,638.75 L63.50,638.75 L63.94,638.75 L64.41,638.75 L64.92,638.75 L65.46,638.75 L66.03,638.75 L66.63,638.75 L67.25,638.75 L67.91,638.75 L68.59,638.75 L69.30,638.75 L70.03,638.74 L70.79,638.74 L71.57,638.73 L72.38,638.71 L73.21,638.70 L74.06,638.67 L74.93,638.65 L75.83,638.61 L76.75,638.57 L77.69,638.52 L78.65,638.46 L79.63,638.39 L80.63,638.32 L81.66,638.23 L82.70,638.14 L83.76,638.04 L84.84,637.92 L85.94,637.80 L87.06,637.68 L88.20,637.54 L89.36,637.39 L90.54,637.23 L91.73,637.07 L92.94,636.90 L94.17,636.71 L95.42,636.52 L96.69,636.33 L97.97,636.12 L99.27,635.90 L100.59,635.68 L101.92,635.45 L103.27,635.21 L104.64,634.96 L106.02,634.71 L107.43,634.45 L108.84,634.18 L110.27,633.90 L111.72,633.62 L113.19,633.33 L114.67,633.03 L116.17,632.72 L117.68,632.41 L119.20,632.09 L120.75,631.76 L122.30,631.43 L123.88,631.09 L125.47,630.75 L127.07,630.39 L128.69,630.04 L130.32,629.67 L131.97,629.30 L133.63,628.92 L135.30,628.54 L137.00,628.15 L138.70,627.75 L140.42,627.35 L142.15,626.94 L143.90,626.53 L145.66,626.11 L147.44,625.69 L149.23,625.26 L151.03,624.82 L152.85,624.38 L154.68,623.93 L156.52,623.48 L158.38,623.02 L160.25,622.56 L162.14,622.09 L164.04,621.62 L165.95,621.14 L167.87,620.65 L169.81,620.16 L171.76,619.67 L173.73,619.17 L175.70,618.66 L177.69,618.15 L179.70,617.64 L181.71,617.12 L183.74,616.60 L185.78,616.07 L187.84,615.53 L189.90,614.99 L191.98,614.45 L194.07,613.90 L196.18,613.35 L198.29,612.79 L200.42,612.23 L202.56,611.66 L204.72,611.09 L206.88,610.51 L209.06,609.93 L211.25,609.35 L213.45,608.76 L215.67,608.16 L217.89,607.57 L220.13,606.96 L222.38,606.36 L224.64,605.75 L226.92,605.13 L229.20,604.51 L231.50,603.89 L233.81,603.26 L236.13,602.63 L238.46,601.99 L240.81,601.35 L243.16,600.70 L245.53,600.06 L247.91,599.40 L250.30,598.75 L252.70,598.09 L255.11,597.42 L257.53,596.75 L259.97,596.08 L262.42,595.40 L264.87,594.72 L267.34,594.04 L269.82,593.35 L272.31,592.66 L274.82,591.96 L277.33,591.26 L279.86,590.56 L282.39,589.85 L284.94,589.14 L287.49,588.42 L290.06,587.70 L292.64,586.98 L295.23,586.26 L297.83,585.53 L300.44,584.79 L303.07,584.06 L305.70,583.32 L308.34,582.57 L311.00,581.82 L313.66,581.07 L316.34,580.32 L319.02,579.56 L321.72,578.80 L324.43,578.03 L327.15,577.26 L329.88,576.49 L332.61,575.71 L335.36,574.93 L338.12,574.15 L340.89,573.36 L343.67,572.57 L346.46,571.78 L349.26,570.98 L352.08,570.18 L354.90,569.38 L357.73,568.57 L360.57,567.76 L363.42,566.95 L366.28,566.13 L369.16,565.31 L372.04,564.49 L374.93,563.66 L377.83,562.83 L380.75,562.00 L383.67,561.16 L386.60,560.32 L389.54,559.48 L392.50,558.63 L395.46,557.78 L398.43,556.93 L401.41,556.07 L404.40,555.21 L407.41,554.35 L410.42,553.49 L413.44,552.62 L416.47,551.75 L419.51,550.87 L422.56,549.99 L425.62,549.11 L428.69,548.23 L431.77,547.34 L434.86,546.45 L437.96,545.56 L441.07,544.66 L444.19,543.76 L447.31,542.86 L450.45,541.95 L453.60,541.04 L456.75,540.13 L459.92,539.22 L463.09,538.30 L466.28,537.38 L469.47,536.45 L472.68,535.53 L475.89,534.60 L479.11,533.67 L482.34,532.73 L485.58,531.79 L488.83,530.85 L492.09,529.91 L495.36,528.96 L498.64,528.01 L501.93,527.05 L505.22,526.10 L508.53,525.14 L511.84,524.18 L515.17,523.21 L518.50,522.24" stroke="#00ff00"/>
<path d="M61.65,638.75 L61.73,638.75 L61.89,638.75 L62.12,638.75 L62.40,638.75 L62.73,638.75 L63.09,638.75 L63.50,638.75 L63.94,638.75 L64.41,638.75 L64.92,638.75 L65.46,638.75 L66.03,638.75 L66.63,638.75 L67.25,638.75 L67.91,638.75 L68.59,638.75 L69.30,638.75 L70.03,638.75 L70.79,638.75 L71.57,638.74 L72.38,638.74 L73.21,638.73 L74.06,638.72 L74.93,638.71 L75.83,638.70 L76.75,638.68 L77.69,638.65 L78.65,638.62 L79.63,638.59 L80.63,638.55 L81.66,638.50 L82.70,638.45 L83.76,638.39 L84.84,638.32 L85.94,638.25 L87.06,638.17 L88.20,638.08 L89.36,637.98 L90.54,637.88 L91.73,637.78 L92.94,637.66 L94.17,637.54 L95.42,637.41 L96.69,637.27 L97.97,637.13 L99.27,636.98 L100.59,636.82 L101.92,636.66 L103.27,636.49 L104.64,636.32 L106.02,636.13 L107.43,635.95 L108.84,635.75 L110.27,635.55 L111.72,635.34 L113.19,635.13 L114.67,634.91 L116.17,634.69 L117.68,634.45 L119.20,634.22 L120.75,633.97 L122.30,633.73 L123.88,633.47 L125.47,633.21 L127.07,632.95 L128.69,632.68 L130.32,632.40 L131.97,632.12 L133.63,631.84 L135.30,631.54 L137.00,631.25 L138.70,630.95 L140.42,630.64 L142.15,630.33 L143.90,630.01 L145.66,629.69 L147.44,629.36 L149.23,629.03 L151.03,628.70 L152.85,628.35 L154.68,628.01 L156.52,627.66 L158.38,627.30 L160.25,626.95 L162.14,626.58 L164.04,626.21 L165.95,625.84 L167.87,625.46 L169.81,625.08 L171.76,624.70 L173.73,624.31 L175.70,623.91 L177.69,623.51 L179.70,623.11 L181.71,622.70 L183.74,622.29 L185.78,621.88 L187.84,621.46 L189.90,621.03 L191.98,620.61 L194.07,620.17 L196.18,619.74 L198.29,619.30 L200.42,618.86 L202.56,618.41 L204.72,617.96 L206.88,617.50 L209.06,617.05 L211.25,616.58 L213.45,616.12 L215.67,615.65 L217.89,615.17 L220.13,614.70 L222.38,614.21 L224.64,613.73 L226.92,613.24 L229.20,612.75 L231.50,612.25 L233.81,611.75 L236.13,611.25 L238.46,610.75 L240.81,610.24 L243.16,609.72 L245.53,609.21 L247.91,608.69 L250.30,608.16 L252.70,607.64 L255.11,607.11 L257.53,606.57 L259.97,606.04 L262.42,605.50 L264.87,604.95 L267.34,604.41 L269.82,603.86 L272.31,603.30 L274.82,602.75 L277.33,602.19 L279.86,601.62 L282.39,601.06 L284.94,600.49 L287.49,599.92 L290.06,599.34 L292.64,598.76 L295.23,598.18 L297.83,597.59 L300.44,597.01 L303.07,596.41 L305.70,595.82 L308.34,595.22 L311.00,594.62 L313.66,594.02 L316.34,593.41 L319.02,592.80 L321.72,592.19 L324.43,591.58 L327.15,590.96 L329.88,590.34 L332.61,589.71 L335.36,589.09 L338.12,588.46 L340.89,587.82 L343.67,587.19 L346.46,586.55 L349.26,585.91 L352.08,585.26 L354.90,584.62 L357.73,583.97 L360.57,583.31 L363.42,582.66 L366.28,582.00 L369.16,581.34 L372.04,580.67 L374.93,580.01 L377.83,579.34 L380.75,578.67 L383.67,577.99 L386.60,577.31 L389.54,576.63 L392.50,575.95 L395.46,575.26 L398.43,574.58 L401.41,573.88 L404.40,573.19 L407.41,572.49 L410.42,571.79 L413.44,571.09 L416.47,570.39 L419.51,569.68 L422.56,568.97 L425.62,568.26 L428.69,567.55 L431.77,566.83 L434.86,566.11 L437.96,565.39 L441.07,564.66 L444.19,563.93 L447.31,563.20 L450.45,562.47 L453.60,561.73 L456.75,561.00 L459.92,560.26 L463.09,559.51 L466.28,558.77 L469.47,558.02 L472.68,557.27 L475.89,556.52 L479.11,555.76 L482.34,555.00 L485.58,554.24 L488.83,553.48 L492.09,552.72 L495.36,551.95 L498.64,551.18 L501.93,550.41 L505.22,549.63 L508.53,548.85 L511.84,548.07 L515.17,547.29 L518.50,546.51" stroke="#0000ff"/>
<path d="M61.65,638.75 L61.73,638.75 L61.89,638.75 L62.12,638.75 L62.40,638.75 L62.73,638.75 L63.09,638.75 L63.50,638.75 L63.94,638.75 L64.41,638.75 L64.92,638.75 L65.46,638.75 L66.03,638.75 L66.63,638.75 L67.25,638.75 L67.91,638.75 L68.59,638.75 L69.30,638.75 L70.03,638.75 L70.79,638.75 L71.57,638.75 L72.38,638.75 L73.21,638.74 L74.06,638.74 L74.93,638.73 L75.83,638.73 L76.75,638.72 L77.69,638.70 L78.65,638.69 L79.63,638.67 L80.63,638.64 L81.66,638.61 L82.70,638.58 L83.76,638.54 L84.84,638.50 L85.94,638.45 L87.06,638.39 L88.20,638.33 L89.36,638.27 L90.54,638.20 L91.73,638.12 L92.94,638.04 L94.17,637.95 L95.42,637.85 L96.69,637.75 L97.97,637.65 L99.27,637.53 L100.59,637.41 L101.92,637.29 L103.27,637.16 L104.64,637.03 L106.02,636.89 L107.43,636.74 L108.84,636.59 L110.27,636.43 L111.72,636.27 L113.19,636.10 L114.67,635.93 L116.17,635.75 L117.68,635.57 L119.20,635.38 L120.75,635.18 L122.30,634.98 L123.88,634.78 L125.47,634.57 L127.07,634.36 L128.69,634.14 L130.32,633.92 L131.97,633.69 L133.63,633.46 L135.30,633.22 L137.00,632.98 L138.70,632.73 L140.42,632.48 L142.15,632.22 L143.90,631.97 L145.66,631.70 L147.44,631.43 L149.23,631.16 L151.03,630.88 L152.85,630.60 L154.68,630.32 L156.52,630.03 L158.38,629.73 L160.25,629.44 L162.14,629.14 L164.04,628.83 L165.95,628.52 L167.87,628.21 L169.81,627.89 L171.76,627.57 L173.73,627.24 L175.70,626.91 L177.69,626.58 L179.70,626.24 L181.71,625.90 L183.74,625.56 L185.78,625.21 L187.84,624.86 L189.90,624.51 L191.98,624.15 L194.07,623.79 L196.18,623.42 L198.29,623.05 L200.42,622.68 L202.56,622.30 L204.72,621.93 L206.88,621.54 L209.06,621.16 L211.25,620.77 L213.45,620.37 L215.67,619.98 L217.89,619.58 L220.13,619.18 L222.38,618.77 L224.64,618.36 L226.92,617.95 L229.20,617.53 L231.50,617.11 L233.81,616.69 L236.13,616.27 L238.46,615.84 L240.81,615.41 L243.16,614.97 L245.53,614.53 L247.91,614.09 L250.30,613.65 L252.70,613.20 L255.11,612.75 L257.53,612.30 L259.97,611.84 L262.42,611.39 L264.87,610.92 L267.34,610.46 L269.82,609.99 L272.31,609.52 L274.82,609.05 L277.33,608.57 L279.86,608.09 L282.39,607.61 L284.94,607.13 L287.49,606.64 L290.06,606.15 L292.64,605.66 L295.23,605.16 L297.83,604.66 L300.44,604.16 L303.07,603.66 L305.70,603.15 L308.34,602.64 L311.00,602.13 L313.66,601.61 L316.34,601.10 L319.02,600.58 L321.72,600.05 L324.43,599.53 L327.15,599.00 L329.88,598.47 L332.61,597.94 L335.36,597.40 L338.12,596.86 L340.89,596.32 L343.67,595.78 L346.46,595.23 L349.26,594.68 L352.08,594.13 L354.90,593.58 L357.73,593.02 L360.57,592.46 L363.42,591.90 L366.28,591.34 L369.16,590.77 L372.04,590.21 L374.93,589.63 L377.83,589.06 L380.75,588.49 L383.67,587.91 L386.60,587.33 L389.54,586.74 L392.50,586.16 L395.46,585.57 L398.43,584.98 L401.41,584.39 L404.40,583.79 L407.41,583.20 L410.42,582.60 L413.44,581.99 L416.47,581.39 L419.51,580.78 L422.56,580.18 L425.62,579.56 L428.69,578.95 L431.77,578.33 L434.86,577.72 L437.96,577.10 L441.07,576.47 L444.19,575.85 L447.31,575.22 L450.45,574.59 L453.60,573.96 L456.75,573.33 L459.92,572.69 L463.09,572.05 L466.28,571.41 L469.47,570.77 L472.68,570.13 L475.89,569.48 L479.11,568.83 L482.34,568.18 L485.58,567.52 L488.83,566.87 L492.09,566.21 L495.36,565.55 L498.64,564.89 L501.93,564.22 L505.22,563.56 L508.53,562.89 L511.84,562.22 L515.17,561.55 L518.50,560.87" stroke="#00ffff"/>
<path d="M61.65,638.75 L61.73,638.75 L61.89,638.75 L62.12,638.75 L62.40,638.75 L62.73,638.75 L63.09,638.75 L63.50,638.75 L63.94,638.75 L64.41,638.75 L64.92,638.75 L65.46,638.75 L66.03,638.75 L66.63,638.75 L67.25,638.75 L67.91,638.75 L68.59,638.75 L69.30,638.75 L70.03,638.75 L70.79,638.75 L71.57,638.75 L72.38,638.75 L73.21,638.75 L74.06,638.75 L74.93,638.75 L75.83,638.74 L76.75,638.74 L77.69,638.74 L78.65,638.73 L79.63,638.72 L80.63,638.71 L81.66,638.70 L82.70,638.68 L83.76,638.66 L84.84,638.64 L85.94,638.62 L87.06,638.59 L88.20,638.56 L89.36,638.52 L90.54,638.48 L91.73,638.44 L92.94,638.39 L94.17,638.33 L95.42,638.28 L96.69,638.21 L97.97,638.15 L99.27,638.08 L100.59,638.00 L101.92,637.92 L103.27,637.84 L104.64,637.75 L106.02,637.65 L107.43,637.56 L108.84,637.45 L110.27,637.35 L111.72,637.23 L113.19,637.12 L114.67,637.00 L116.17,636.87 L117.68,636.74 L119.20,636.61 L120.75,636.47 L122.30,636.33 L123.88,636.19 L125.47,636.04 L127.07,635.88 L128.69,635.72 L130.32,635.56 L131.97,635.40 L133.63,635.23 L135.30,635.05 L137.00,634.87 L138.70,634.69 L140.42,634.51 L142.15,634.32 L143.90,634.12 L145.66,633.93 L147.44,633.73 L149.23,633.52 L151.03,633.32 L152.85,633.10 L154.68,632.89 L156.52,632.67 L158.38,632.45 L160.25,632.23 L162.14,632.00 L164.04,631.76 L165.95,631.53 L167.87,631.29 L169.81,631.05 L171.76,630.80 L173.73,630.56 L175.70,630.30 L177.69,630.05 L179.70,629.79 L181.71,629.53 L183.74,629.27 L185.78,629.00 L187.84,628.73 L189.90,628.45 L191.98,628.18 L194.07,627.90 L196.18,627.61 L198.29,627.33 L200.42,627.04 L202.56,626.75 L204.72,626.45 L206.88,626.16 L209.06,625.86 L211.25,625.55 L213.45,625.25 L215.67,624.94 L217.89,624.63 L220.13,624.31 L222.38,623.99 L224.64,623.67 L226.92,623.35 L229.20,623.03 L231.50,622.70 L233.81,622.37 L236.13,622.03 L238.46,621.70 L240.81,621.36 L243.16,621.02 L245.53,620.67 L247.91,620.33 L250.30,619.98 L252.70,619.63 L255.11,619.27 L257.53,618.91 L259.97,618.56 L262.42,618.19 L264.87,617.83 L267.34,617.46 L269.82,617.09 L272.31,616.72 L274.82,616.35 L277.33,615.97 L279.86,615.59 L282.39,615.21 L284.94,614.83 L287.49,614.44 L290.06,614.05 L292.64,613.66 L295.23,613.27 L297.83,612.87 L300.44,612.47 L303.07,612.07 L305.70,611.67 L308.34,611.26 L311.00,610.86 L313.66,610.45 L316.34,610.04 L319.02,609.62 L321.72,609.21 L324.43,608.79 L327.15,608.37 L329.88,607.94 L332.61,607.52 L335.36,607.09 L338.12,606.66 L340.89,606.23 L343.67,605.80 L346.46,605.36 L349.26,604.92 L352.08,604.48 L354.90,604.04 L357.73,603.60 L360.57,603.15 L363.42,602.70 L366.28,602.25 L369.16,601.80 L372.04,601.34 L374.93,600.89 L377.83,600.43 L380.75,599.97 L383.67,599.50 L386.60,599.04 L389.54,598.57 L392.50,598.10 L395.46,597.63 L398.43,597.16 L401.41,596.68 L404.40,596.20 L407.41,595.72 L410.42,595.24 L413.44,594.76 L416.47,594.28 L419.51,593.79 L422.56,593.30 L425.62,592.81 L428.69,592.32 L431.77,591.82 L434.86,591.32 L437.96,590.83 L441.07,590.33 L444.19,589.82 L447.31,589.32 L450.45,588.81 L453.60,588.30 L456.75,587.79 L459.92,587.28 L463.09,586.77 L466.28,586.25 L469.47,585.74 L472.68,585.22 L475.89,584.70 L479.11,584.17 L482.34,583.65 L485.58,583.12 L488.83,582.59 L492.09,582.06 L495.36,581.53 L498.64,581.00 L501.93,580.46 L505.22,579.92 L508.53,579.39 L511.84,578.84 L515.17,578.30 L518.50,577.76" stroke="#ffff00"/>
</g>
<path d="M61.50,653.10V648.10M61.50,359.40V364.40M152.50,653.10V648.10M152.50,359.40V364.40M244.50,653.10V648.10M244.50,359.40V364.40M335.50,653.10V648.10M335.50,359.40V364.40M427.50,653.10V648.10M427.50,359.40V364.40M518.50,653.10V648.10M518.50,359.40V364.40M84.50,653.10V649.80M84.50,359.40V362.70M107.50,653.10V649.80M107.50,359.40V362.70M130.50,653.10V649.80M130.50,359.40V362.70M175.50,653.10V649.80M175.50,359.40V362.70M198.50,653.10V649.80M198.50,359.40V362.70M221.50,653.10V649.80M221.50,359.40V362.70M267.50,653.10V649.80M267.50,359.40V362.70M290.50,653.10V649.80M290.50,359.40V362.70M312.50,653.10V649.80M312.50,359.40V362.70M358.50,653.10V649.80M358.50,359.40V362.70M381.50,653.10V649.80M381.50,359.40V362.70M404.50,653.10V649.80M404.50,359.40V362.70M449.50,653.10V649.80M449.50,359.40V362.70M472.50,653.10V649.80M472.50,359.40V362.70M495.50,653.10V649.80M495.50,359.40V362.70M52.55,617.50H57.95M527.40,617.50H522.90M52.55,574.50H57.95M527.40,574.50H522.90M52.55,532.50H57.95M527.40,532.50H522.90M52.55,489.50H57.95M527.40,489.50H522.90M52.55,446.50H57.95M527.40,446.50H522.90M52.55,403.50H57.95M527.40,403.50H522.90M52.55,361.50H57.95M527.40,361.50H522.90M52.55,649.50H55.95M527.40,649.50H524.90M52.55,638.50H55.95M527.40,638.50H524.90M52.55,628.50H55.95M527.40,628.50H524.90M52.55,606.50H55.95M527.40,606.50H524.90M52.55,596.50H55.95M527.40,596.50H524.90M52.55,585.50H55.95M527.40,585.50H524.90M52.55,564.50H55.95M527.40,564.50H524.90M52.55,553.50H55.95M527.40,553.50H524.90M52.55,542.50H55.95M527.40,542.50H524.90M52.55,521.50H55.95M527.40,521.50H524.90M52.55,510.50H55.95M527.40,510.50H524.90M52.55,499.50H55.95M527.40,499.50H524.90M52.55,478.50H55.95M527.40,478.50H524.90M52.55,467.50H55.95M527.40,467.50H524.90M52.55,457.50H55.95M527.40,457.50H524.90M52.55,435.50H55.95M527.40,435.50H524.90M52.55,425.50H55.95M527.40,425.50H524.90M52.55,414.50H55.95M527.40,414.50H524.90M52.55,393.50H55.95M527.40,393.50H524.90M52.55,382.50H55.95M527.40,382.50H524.90M52.55,371.50H55.95M527.40,371.50H524.90" stroke="#000" stroke-width="1.05" fill="none"/>
<rect x="52.50" y="359.50" width="475.00" height="294.00" fill="none" stroke="#000" stroke-width="1.2"/>
<text transform="translate(61.60,670.10) scale(1.080,1)" text-anchor="middle" class="t">0</text>
<text transform="translate(152.98,670.10) scale(1.080,1)" text-anchor="middle" class="t">2</text>
<text transform="translate(244.36,670.10) scale(1.080,1)" text-anchor="middle" class="t">4</text>
<text transform="translate(335.74,670.10) scale(1.080,1)" text-anchor="middle" class="t">6</text>
<text transform="translate(427.12,670.10) scale(1.080,1)" text-anchor="middle" class="t">8</text>
<text transform="translate(518.50,670.10) scale(1.080,1)" text-anchor="middle" class="t">10</text>
<text transform="translate(47.25,621.70) scale(1.080,1)" text-anchor="end" class="t">2</text>
<text transform="translate(47.25,579.00) scale(1.080,1)" text-anchor="end" class="t">4</text>
<text transform="translate(47.25,536.30) scale(1.080,1)" text-anchor="end" class="t">6</text>
<text transform="translate(47.25,493.60) scale(1.080,1)" text-anchor="end" class="t">8</text>
<text transform="translate(47.25,450.90) scale(1.080,1)" text-anchor="end" class="t">10</text>
<text transform="translate(47.25,408.20) scale(1.080,1)" text-anchor="end" class="t">12</text>
<text transform="translate(47.25,365.50) scale(1.080,1)" text-anchor="end" class="t">14</text>
<text transform="translate(290.60,689.00) scale(1.05,1)" text-anchor="middle" class="t">1/<tspan class="beta">β</tspan></text>
<text transform="translate(15.70,506.60) rotate(-90) scale(1.100,1)" text-anchor="middle" class="al">Total energy, U</text>
<text x="5.00" y="686.00" class="pl">b)</text>
<path d="M391.00,431.70H420.90" stroke="#ff0000" stroke-width="4.00"/>
<text x="428.30" y="436.40" class="bi">B</text>
<path d="M443.00,430.00H451.80v1.3H443.00z M443.00,432.70H451.80v1.3H443.00z" fill="#000"/>
<text transform="translate(457.20,436.40) scale(1.060,1)" text-anchor="start" class="lg">1</text>
<path d="M391.00,461.55H420.90" stroke="#ff7f00" stroke-width="3.00"/>
<text x="428.30" y="466.25" class="bi">B</text>
<path d="M443.00,460.00H451.80v1.3H443.00z M443.00,462.70H451.80v1.3H443.00z" fill="#000"/>
<text transform="translate(457.20,466.25) scale(1.060,1)" text-anchor="start" class="lg">5</text>
<path d="M391.00,491.40H420.90" stroke="#00ff00" stroke-width="3.10"/>
<text x="428.30" y="496.10" class="bi">B</text>
<path d="M443.00,490.00H451.80v1.3H443.00z M443.00,492.70H451.80v1.3H443.00z" fill="#000"/>
<text transform="translate(457.20,496.10) scale(1.060,1)" text-anchor="start" class="lg">10</text>
<path d="M391.00,521.25H420.90" stroke="#0000ff" stroke-width="3.00"/>
<text x="428.30" y="525.95" class="bi">B</text>
<path d="M443.00,520.00H451.80v1.3H443.00z M443.00,522.70H451.80v1.3H443.00z" fill="#000"/>
<text transform="translate(457.20,525.95) scale(1.060,1)" text-anchor="start" class="lg">15</text>
<path d="M391.00,551.10H420.90" stroke="#00ffff" stroke-width="3.20"/>
<text x="428.30" y="555.80" class="bi">B</text>
<path d="M443.00,549.00H451.80v1.3H443.00z M443.00,551.70H451.80v1.3H443.00z" fill="#000"/>
<text transform="translate(457.20,555.80) scale(1.060,1)" text-anchor="start" class="lg">20</text>
<path d="M391.00,580.95H420.90" stroke="#ffff00" stroke-width="4.00"/>
<text x="428.30" y="585.65" class="bi">B</text>
<path d="M443.00,579.00H451.80v1.3H443.00z M443.00,581.70H451.80v1.3H443.00z" fill="#000"/>
<text transform="translate(457.20,585.65) scale(1.060,1)" text-anchor="start" class="lg">30</text>
<clipPath id="clipc"><rect x="48.45" y="714.50" width="483.00" height="298.85"/></clipPath>
<g clip-path="url(#clipc)" fill="none" stroke-width="2.8" stroke-linejoin="round" stroke-linecap="round">
<path d="M57.52,998.20 L57.61,998.20 L57.78,998.20 L58.01,998.20 L58.29,998.20 L58.62,998.14 L58.99,997.83 L59.41,996.97 L59.85,995.40 L60.34,993.15 L60.86,990.35 L61.40,987.12 L61.98,983.61 L62.59,979.91 L63.23,976.10 L63.90,972.24 L64.59,968.38 L65.31,964.54 L66.06,960.74 L66.83,957.00 L67.62,953.32 L68.44,949.72 L69.29,946.19 L70.16,942.75 L71.05,939.38 L71.96,936.09 L72.89,932.88 L73.85,929.74 L74.83,926.68 L75.83,923.69 L76.85,920.77 L77.89,917.92 L78.95,915.14 L80.03,912.42 L81.13,909.76 L82.25,907.16 L83.39,904.62 L84.55,902.14 L85.73,899.71 L86.93,897.32 L88.14,894.99 L89.38,892.71 L90.63,890.47 L91.90,888.28 L93.19,886.13 L94.49,884.03 L95.82,881.96 L97.16,879.93 L98.52,877.94 L99.89,875.99 L101.28,874.07 L102.69,872.19 L104.12,870.34 L105.56,868.52 L107.02,866.73 L108.49,864.97 L109.98,863.24 L111.49,861.54 L113.01,859.87 L114.55,858.22 L116.11,856.60 L117.68,855.00 L119.26,853.43 L120.86,851.88 L122.48,850.35 L124.11,848.85 L125.76,847.37 L127.42,845.91 L129.09,844.46 L130.79,843.04 L132.49,841.64 L134.21,840.26 L135.95,838.90 L137.70,837.55 L139.46,836.22 L141.24,834.91 L143.03,833.62 L144.84,832.34 L146.66,831.08 L148.50,829.83 L150.35,828.60 L152.21,827.38 L154.09,826.18 L155.98,824.99 L157.88,823.82 L159.80,822.66 L161.74,821.51 L163.68,820.37 L165.64,819.25 L167.61,818.14 L169.60,817.04 L171.60,815.96 L173.61,814.88 L175.64,813.82 L177.67,812.77 L179.73,811.73 L181.79,810.70 L183.87,809.68 L185.96,808.67 L188.06,807.67 L190.18,806.68 L192.31,805.70 L194.45,804.73 L196.60,803.77 L198.77,802.82 L200.95,801.87 L203.14,800.94 L205.34,800.01 L207.56,799.10 L209.79,798.19 L212.03,797.29 L214.28,796.39 L216.55,795.51 L218.83,794.63 L221.12,793.76 L223.42,792.90 L225.73,792.05 L228.06,791.20 L230.40,790.36 L232.75,789.52 L235.11,788.70 L237.48,787.88 L239.87,787.07 L242.27,786.26 L244.68,785.46 L247.10,784.67 L249.53,783.88 L251.97,783.10 L254.43,782.32 L256.90,781.55 L259.37,780.79 L261.86,780.03 L264.37,779.28 L266.88,778.54 L269.40,777.80 L271.94,777.06 L274.48,776.33 L277.04,775.61 L279.61,774.89 L282.19,774.17 L284.78,773.47 L287.39,772.76 L290.00,772.06 L292.63,771.37 L295.26,770.68 L297.91,770.00 L300.57,769.32 L303.24,768.64 L305.92,767.97 L308.61,767.30 L311.31,766.64 L314.02,765.98 L316.74,765.33 L319.48,764.68 L322.22,764.04 L324.98,763.40 L327.74,762.76 L330.52,762.13 L333.31,761.50 L336.11,760.88 L338.92,760.26 L341.74,759.64 L344.56,759.03 L347.40,758.42 L350.26,757.81 L353.12,757.21 L355.99,756.61 L358.87,756.02 L361.76,755.43 L364.67,754.84 L367.58,754.26 L370.50,753.68 L373.44,753.10 L376.38,752.52 L379.33,751.95 L382.30,751.39 L385.27,750.82 L388.26,750.26 L391.25,749.70 L394.26,749.15 L397.27,748.60 L400.30,748.05 L403.33,747.50 L406.38,746.96 L409.43,746.42 L412.50,745.88 L415.57,745.35 L418.66,744.82 L421.75,744.29 L424.86,743.77 L427.97,743.24 L431.10,742.72 L434.23,742.21 L437.37,741.69 L440.53,741.18 L443.69,740.67 L446.86,740.17 L450.05,739.66 L453.24,739.16 L456.44,738.66 L459.66,738.16 L462.88,737.67 L466.11,737.18 L469.35,736.69 L472.60,736.20 L475.86,735.72 L479.13,735.24 L482.41,734.76 L485.70,734.28 L489.00,733.81 L492.31,733.33 L495.62,732.86 L498.95,732.39 L502.29,731.93 L505.63,731.46 L508.99,731.00 L512.35,730.54 L515.72,730.08 L519.11,729.63 L522.50,729.18" stroke="#ff0000"/>
<path d="M57.52,998.20 L57.61,998.20 L57.78,998.20 L58.01,998.20 L58.29,998.20 L58.62,998.20 L58.99,998.20 L59.41,998.20 L59.85,998.17 L60.34,998.06 L60.86,997.82 L61.40,997.37 L61.98,996.67 L62.59,995.71 L63.23,994.49 L63.90,993.04 L64.59,991.38 L65.31,989.55 L66.06,987.59 L66.83,985.51 L67.62,983.34 L68.44,981.11 L69.29,978.84 L70.16,976.53 L71.05,974.20 L71.96,971.86 L72.89,969.52 L73.85,967.18 L74.83,964.86 L75.83,962.55 L76.85,960.26 L77.89,958.00 L78.95,955.75 L80.03,953.54 L81.13,951.35 L82.25,949.18 L83.39,947.05 L84.55,944.94 L85.73,942.86 L86.93,940.81 L88.14,938.79 L89.38,936.80 L90.63,934.84 L91.90,932.91 L93.19,931.00 L94.49,929.12 L95.82,927.27 L97.16,925.45 L98.52,923.65 L99.89,921.88 L101.28,920.13 L102.69,918.41 L104.12,916.71 L105.56,915.03 L107.02,913.38 L108.49,911.75 L109.98,910.15 L111.49,908.56 L113.01,907.00 L114.55,905.46 L116.11,903.94 L117.68,902.44 L119.26,900.96 L120.86,899.49 L122.48,898.05 L124.11,896.63 L125.76,895.22 L127.42,893.83 L129.09,892.46 L130.79,891.10 L132.49,889.76 L134.21,888.44 L135.95,887.14 L137.70,885.84 L139.46,884.57 L141.24,883.31 L143.03,882.06 L144.84,880.83 L146.66,879.61 L148.50,878.41 L150.35,877.22 L152.21,876.04 L154.09,874.87 L155.98,873.72 L157.88,872.58 L159.80,871.45 L161.74,870.34 L163.68,869.23 L165.64,868.14 L167.61,867.06 L169.60,865.99 L171.60,864.93 L173.61,863.88 L175.64,862.84 L177.67,861.81 L179.73,860.80 L181.79,859.79 L183.87,858.79 L185.96,857.80 L188.06,856.82 L190.18,855.85 L192.31,854.89 L194.45,853.93 L196.60,852.99 L198.77,852.05 L200.95,851.13 L203.14,850.21 L205.34,849.30 L207.56,848.39 L209.79,847.50 L212.03,846.61 L214.28,845.73 L216.55,844.86 L218.83,844.00 L221.12,843.14 L223.42,842.29 L225.73,841.44 L228.06,840.61 L230.40,839.78 L232.75,838.96 L235.11,838.14 L237.48,837.33 L239.87,836.53 L242.27,835.73 L244.68,834.94 L247.10,834.15 L249.53,833.37 L251.97,832.60 L254.43,831.83 L256.90,831.07 L259.37,830.32 L261.86,829.57 L264.37,828.82 L266.88,828.08 L269.40,827.35 L271.94,826.62 L274.48,825.90 L277.04,825.18 L279.61,824.46 L282.19,823.76 L284.78,823.05 L287.39,822.35 L290.00,821.66 L292.63,820.97 L295.26,820.29 L297.91,819.61 L300.57,818.93 L303.24,818.26 L305.92,817.60 L308.61,816.93 L311.31,816.28 L314.02,815.62 L316.74,814.98 L319.48,814.33 L322.22,813.69 L324.98,813.05 L327.74,812.42 L330.52,811.79 L333.31,811.17 L336.11,810.55 L338.92,809.93 L341.74,809.32 L344.56,808.71 L347.40,808.10 L350.26,807.50 L353.12,806.90 L355.99,806.30 L358.87,805.71 L361.76,805.12 L364.67,804.54 L367.58,803.96 L370.50,803.38 L373.44,802.81 L376.38,802.23 L379.33,801.67 L382.30,801.10 L385.27,800.54 L388.26,799.98 L391.25,799.43 L394.26,798.87 L397.27,798.32 L400.30,797.78 L403.33,797.23 L406.38,796.69 L409.43,796.16 L412.50,795.62 L415.57,795.09 L418.66,794.56 L421.75,794.03 L424.86,793.51 L427.97,792.99 L431.10,792.47 L434.23,791.96 L437.37,791.44 L440.53,790.93 L443.69,790.42 L446.86,789.92 L450.05,789.42 L453.24,788.92 L456.44,788.42 L459.66,787.92 L462.88,787.43 L466.11,786.94 L469.35,786.45 L472.60,785.97 L475.86,785.49 L479.13,785.01 L482.41,784.53 L485.70,784.05 L489.00,783.58 L492.31,783.11 L495.62,782.64 L498.95,782.17 L502.29,781.70 L505.63,781.24 L508.99,780.78 L512.35,780.32 L515.72,779.86 L519.11,779.41 L522.50,778.96" stroke="#ff7f00"/>
<path d="M57.52,998.20 L57.61,998.20 L57.78,998.20 L58.01,998.20 L58.29,998.20 L58.62,998.20 L58.99,998.20 L59.41,998.20 L59.85,998.20 L60.34,998.19 L60.86,998.16 L61.40,998.09 L61.98,997.93 L62.59,997.64 L63.23,997.21 L63.90,996.62 L64.59,995.85 L65.31,994.91 L66.06,993.81 L66.83,992.58 L67.62,991.21 L68.44,989.74 L69.29,988.18 L70.16,986.54 L71.05,984.83 L71.96,983.07 L72.89,981.28 L73.85,979.45 L74.83,977.59 L75.83,975.73 L76.85,973.85 L77.89,971.96 L78.95,970.08 L80.03,968.20 L81.13,966.32 L82.25,964.45 L83.39,962.59 L84.55,960.75 L85.73,958.92 L86.93,957.10 L88.14,955.30 L89.38,953.52 L90.63,951.75 L91.90,950.00 L93.19,948.27 L94.49,946.56 L95.82,944.87 L97.16,943.19 L98.52,941.54 L99.89,939.90 L101.28,938.28 L102.69,936.68 L104.12,935.10 L105.56,933.54 L107.02,931.99 L108.49,930.47 L109.98,928.96 L111.49,927.47 L113.01,925.99 L114.55,924.54 L116.11,923.10 L117.68,921.67 L119.26,920.27 L120.86,918.88 L122.48,917.50 L124.11,916.14 L125.76,914.80 L127.42,913.47 L129.09,912.15 L130.79,910.86 L132.49,909.57 L134.21,908.30 L135.95,907.04 L137.70,905.80 L139.46,904.57 L141.24,903.35 L143.03,902.15 L144.84,900.96 L146.66,899.78 L148.50,898.61 L150.35,897.46 L152.21,896.31 L154.09,895.18 L155.98,894.06 L157.88,892.95 L159.80,891.86 L161.74,890.77 L163.68,889.69 L165.64,888.63 L167.61,887.57 L169.60,886.53 L171.60,885.49 L173.61,884.47 L175.64,883.45 L177.67,882.45 L179.73,881.45 L181.79,880.46 L183.87,879.48 L185.96,878.51 L188.06,877.55 L190.18,876.60 L192.31,875.66 L194.45,874.72 L196.60,873.79 L198.77,872.87 L200.95,871.96 L203.14,871.06 L205.34,870.16 L207.56,869.27 L209.79,868.39 L212.03,867.52 L214.28,866.65 L216.55,865.79 L218.83,864.94 L221.12,864.10 L223.42,863.26 L225.73,862.42 L228.06,861.60 L230.40,860.78 L232.75,859.97 L235.11,859.16 L237.48,858.36 L239.87,857.57 L242.27,856.78 L244.68,856.00 L247.10,855.22 L249.53,854.45 L251.97,853.68 L254.43,852.93 L256.90,852.17 L259.37,851.42 L261.86,850.68 L264.37,849.94 L266.88,849.21 L269.40,848.48 L271.94,847.76 L274.48,847.05 L277.04,846.33 L279.61,845.63 L282.19,844.92 L284.78,844.23 L287.39,843.53 L290.00,842.85 L292.63,842.16 L295.26,841.48 L297.91,840.81 L300.57,840.14 L303.24,839.47 L305.92,838.81 L308.61,838.16 L311.31,837.50 L314.02,836.85 L316.74,836.21 L319.48,835.57 L322.22,834.93 L324.98,834.30 L327.74,833.67 L330.52,833.05 L333.31,832.43 L336.11,831.81 L338.92,831.20 L341.74,830.59 L344.56,829.98 L347.40,829.38 L350.26,828.78 L353.12,828.18 L355.99,827.59 L358.87,827.00 L361.76,826.42 L364.67,825.84 L367.58,825.26 L370.50,824.68 L373.44,824.11 L376.38,823.54 L379.33,822.98 L382.30,822.41 L385.27,821.85 L388.26,821.30 L391.25,820.75 L394.26,820.20 L397.27,819.65 L400.30,819.10 L403.33,818.56 L406.38,818.02 L409.43,817.49 L412.50,816.96 L415.57,816.43 L418.66,815.90 L421.75,815.37 L424.86,814.85 L427.97,814.33 L431.10,813.82 L434.23,813.30 L437.37,812.79 L440.53,812.29 L443.69,811.78 L446.86,811.28 L450.05,810.78 L453.24,810.28 L456.44,809.78 L459.66,809.29 L462.88,808.80 L466.11,808.31 L469.35,807.82 L472.60,807.34 L475.86,806.86 L479.13,806.38 L482.41,805.90 L485.70,805.43 L489.00,804.95 L492.31,804.48 L495.62,804.01 L498.95,803.55 L502.29,803.08 L505.63,802.62 L508.99,802.16 L512.35,801.71 L515.72,801.25 L519.11,800.80 L522.50,800.35" stroke="#00ff00"/>
<path d="M57.52,998.20 L57.61,998.20 L57.78,998.20 L58.01,998.20 L58.29,998.20 L58.62,998.20 L58.99,998.20 L59.41,998.20 L59.85,998.20 L60.34,998.20 L60.86,998.19 L61.40,998.18 L61.98,998.13 L62.59,998.03 L63.23,997.85 L63.90,997.57 L64.59,997.17 L65.31,996.64 L66.06,995.97 L66.83,995.17 L67.62,994.25 L68.44,993.22 L69.29,992.08 L70.16,990.85 L71.05,989.53 L71.96,988.15 L72.89,986.70 L73.85,985.21 L74.83,983.67 L75.83,982.10 L76.85,980.50 L77.89,978.88 L78.95,977.24 L80.03,975.60 L81.13,973.94 L82.25,972.28 L83.39,970.62 L84.55,968.96 L85.73,967.31 L86.93,965.66 L88.14,964.01 L89.38,962.38 L90.63,960.75 L91.90,959.14 L93.19,957.54 L94.49,955.95 L95.82,954.37 L97.16,952.80 L98.52,951.25 L99.89,949.72 L101.28,948.19 L102.69,946.68 L104.12,945.19 L105.56,943.71 L107.02,942.25 L108.49,940.79 L109.98,939.36 L111.49,937.94 L113.01,936.53 L114.55,935.14 L116.11,933.76 L117.68,932.40 L119.26,931.05 L120.86,929.71 L122.48,928.39 L124.11,927.08 L125.76,925.78 L127.42,924.50 L129.09,923.23 L130.79,921.98 L132.49,920.73 L134.21,919.50 L135.95,918.28 L137.70,917.08 L139.46,915.88 L141.24,914.70 L143.03,913.53 L144.84,912.37 L146.66,911.22 L148.50,910.09 L150.35,908.96 L152.21,907.85 L154.09,906.74 L155.98,905.65 L157.88,904.57 L159.80,903.49 L161.74,902.43 L163.68,901.38 L165.64,900.34 L167.61,899.30 L169.60,898.28 L171.60,897.26 L173.61,896.26 L175.64,895.26 L177.67,894.27 L179.73,893.29 L181.79,892.32 L183.87,891.36 L185.96,890.41 L188.06,889.46 L190.18,888.53 L192.31,887.60 L194.45,886.68 L196.60,885.76 L198.77,884.86 L200.95,883.96 L203.14,883.07 L205.34,882.18 L207.56,881.31 L209.79,880.44 L212.03,879.58 L214.28,878.72 L216.55,877.87 L218.83,877.03 L221.12,876.19 L223.42,875.36 L225.73,874.54 L228.06,873.73 L230.40,872.92 L232.75,872.11 L235.11,871.31 L237.48,870.52 L239.87,869.74 L242.27,868.96 L244.68,868.18 L247.10,867.41 L249.53,866.65 L251.97,865.89 L254.43,865.14 L256.90,864.39 L259.37,863.65 L261.86,862.92 L264.37,862.19 L266.88,861.46 L269.40,860.74 L271.94,860.02 L274.48,859.31 L277.04,858.60 L279.61,857.90 L282.19,857.21 L284.78,856.51 L287.39,855.83 L290.00,855.14 L292.63,854.47 L295.26,853.79 L297.91,853.12 L300.57,852.46 L303.24,851.79 L305.92,851.14 L308.61,850.48 L311.31,849.84 L314.02,849.19 L316.74,848.55 L319.48,847.91 L322.22,847.28 L324.98,846.65 L327.74,846.03 L330.52,845.41 L333.31,844.79 L336.11,844.17 L338.92,843.56 L341.74,842.96 L344.56,842.35 L347.40,841.76 L350.26,841.16 L353.12,840.57 L355.99,839.98 L358.87,839.39 L361.76,838.81 L364.67,838.23 L367.58,837.66 L370.50,837.08 L373.44,836.51 L376.38,835.95 L379.33,835.38 L382.30,834.82 L385.27,834.27 L388.26,833.71 L391.25,833.16 L394.26,832.61 L397.27,832.07 L400.30,831.53 L403.33,830.99 L406.38,830.45 L409.43,829.92 L412.50,829.39 L415.57,828.86 L418.66,828.33 L421.75,827.81 L424.86,827.29 L427.97,826.78 L431.10,826.26 L434.23,825.75 L437.37,825.24 L440.53,824.73 L443.69,824.23 L446.86,823.73 L450.05,823.23 L453.24,822.73 L456.44,822.24 L459.66,821.74 L462.88,821.26 L466.11,820.77 L469.35,820.28 L472.60,819.80 L475.86,819.32 L479.13,818.84 L482.41,818.37 L485.70,817.89 L489.00,817.42 L492.31,816.95 L495.62,816.49 L498.95,816.02 L502.29,815.56 L505.63,815.10 L508.99,814.64 L512.35,814.18 L515.72,813.73 L519.11,813.28 L522.50,812.83" stroke="#0000ff"/>
<path d="M57.52,998.20 L57.61,998.20 L57.78,998.20 L58.01,998.20 L58.29,998.20 L58.62,998.20 L58.99,998.20 L59.41,998.20 L59.85,998.20 L60.34,998.20 L60.86,998.20 L61.40,998.19 L61.98,998.18 L62.59,998.14 L63.23,998.06 L63.90,997.91 L64.59,997.69 L65.31,997.37 L66.06,996.95 L66.83,996.41 L67.62,995.76 L68.44,995.01 L69.29,994.15 L70.16,993.20 L71.05,992.16 L71.96,991.04 L72.89,989.85 L73.85,988.60 L74.83,987.30 L75.83,985.96 L76.85,984.57 L77.89,983.15 L78.95,981.71 L80.03,980.24 L81.13,978.76 L82.25,977.26 L83.39,975.76 L84.55,974.25 L85.73,972.73 L86.93,971.21 L88.14,969.70 L89.38,968.18 L90.63,966.67 L91.90,965.16 L93.19,963.66 L94.49,962.17 L95.82,960.68 L97.16,959.21 L98.52,957.74 L99.89,956.29 L101.28,954.84 L102.69,953.41 L104.12,951.98 L105.56,950.57 L107.02,949.17 L108.49,947.78 L109.98,946.41 L111.49,945.05 L113.01,943.69 L114.55,942.35 L116.11,941.03 L117.68,939.71 L119.26,938.41 L120.86,937.12 L122.48,935.84 L124.11,934.57 L125.76,933.32 L127.42,932.07 L129.09,930.84 L130.79,929.62 L132.49,928.41 L134.21,927.22 L135.95,926.03 L137.70,924.86 L139.46,923.69 L141.24,922.54 L143.03,921.40 L144.84,920.27 L146.66,919.15 L148.50,918.03 L150.35,916.93 L152.21,915.84 L154.09,914.76 L155.98,913.69 L157.88,912.63 L159.80,911.58 L161.74,910.54 L163.68,909.50 L165.64,908.48 L167.61,907.46 L169.60,906.46 L171.60,905.46 L173.61,904.47 L175.64,903.49 L177.67,902.52 L179.73,901.56 L181.79,900.60 L183.87,899.65 L185.96,898.72 L188.06,897.78 L190.18,896.86 L192.31,895.94 L194.45,895.03 L196.60,894.13 L198.77,893.24 L200.95,892.35 L203.14,891.47 L205.34,890.60 L207.56,889.73 L209.79,888.88 L212.03,888.02 L214.28,887.18 L216.55,886.34 L218.83,885.51 L221.12,884.68 L223.42,883.86 L225.73,883.05 L228.06,882.24 L230.40,881.44 L232.75,880.64 L235.11,879.85 L237.48,879.07 L239.87,878.29 L242.27,877.51 L244.68,876.75 L247.10,875.98 L249.53,875.23 L251.97,874.48 L254.43,873.73 L256.90,872.99 L259.37,872.26 L261.86,871.52 L264.37,870.80 L266.88,870.08 L269.40,869.36 L271.94,868.65 L274.48,867.95 L277.04,867.25 L279.61,866.55 L282.19,865.86 L284.78,865.17 L287.39,864.49 L290.00,863.81 L292.63,863.13 L295.26,862.46 L297.91,861.80 L300.57,861.14 L303.24,860.48 L305.92,859.83 L308.61,859.18 L311.31,858.53 L314.02,857.89 L316.74,857.25 L319.48,856.62 L322.22,855.99 L324.98,855.37 L327.74,854.75 L330.52,854.13 L333.31,853.51 L336.11,852.90 L338.92,852.29 L341.74,851.69 L344.56,851.09 L347.40,850.49 L350.26,849.90 L353.12,849.31 L355.99,848.73 L358.87,848.14 L361.76,847.56 L364.67,846.99 L367.58,846.41 L370.50,845.84 L373.44,845.28 L376.38,844.71 L379.33,844.15 L382.30,843.59 L385.27,843.04 L388.26,842.49 L391.25,841.94 L394.26,841.39 L397.27,840.85 L400.30,840.31 L403.33,839.77 L406.38,839.24 L409.43,838.71 L412.50,838.18 L415.57,837.65 L418.66,837.13 L421.75,836.61 L424.86,836.09 L427.97,835.57 L431.10,835.06 L434.23,834.55 L437.37,834.04 L440.53,833.54 L443.69,833.03 L446.86,832.53 L450.05,832.04 L453.24,831.54 L456.44,831.05 L459.66,830.56 L462.88,830.07 L466.11,829.58 L469.35,829.10 L472.60,828.62 L475.86,828.14 L479.13,827.66 L482.41,827.19 L485.70,826.72 L489.00,826.25 L492.31,825.78 L495.62,825.31 L498.95,824.85 L502.29,824.39 L505.63,823.93 L508.99,823.47 L512.35,823.02 L515.72,822.56 L519.11,822.11 L522.50,821.66" stroke="#00ffff"/>
<path d="M57.52,998.20 L57.61,998.20 L57.78,998.20 L58.01,998.20 L58.29,998.20 L58.62,998.20 L58.99,998.20 L59.41,998.20 L59.85,998.20 L60.34,998.20 L60.86,998.20 L61.40,998.20 L61.98,998.20 L62.59,998.19 L63.23,998.17 L63.90,998.12 L64.59,998.05 L65.31,997.92 L66.06,997.73 L66.83,997.46 L67.62,997.12 L68.44,996.69 L69.29,996.18 L70.16,995.58 L71.05,994.90 L71.96,994.13 L72.89,993.30 L73.85,992.39 L74.83,991.42 L75.83,990.40 L76.85,989.33 L77.89,988.21 L78.95,987.05 L80.03,985.86 L81.13,984.64 L82.25,983.39 L83.39,982.13 L84.55,980.84 L85.73,979.54 L86.93,978.23 L88.14,976.91 L89.38,975.58 L90.63,974.25 L91.90,972.91 L93.19,971.58 L94.49,970.24 L95.82,968.90 L97.16,967.57 L98.52,966.24 L99.89,964.91 L101.28,963.59 L102.69,962.28 L104.12,960.97 L105.56,959.67 L107.02,958.37 L108.49,957.08 L109.98,955.81 L111.49,954.53 L113.01,953.27 L114.55,952.02 L116.11,950.77 L117.68,949.54 L119.26,948.31 L120.86,947.10 L122.48,945.89 L124.11,944.69 L125.76,943.50 L127.42,942.32 L129.09,941.15 L130.79,939.99 L132.49,938.84 L134.21,937.70 L135.95,936.57 L137.70,935.45 L139.46,934.33 L141.24,933.23 L143.03,932.13 L144.84,931.05 L146.66,929.97 L148.50,928.90 L150.35,927.84 L152.21,926.79 L154.09,925.75 L155.98,924.72 L157.88,923.69 L159.80,922.68 L161.74,921.67 L163.68,920.67 L165.64,919.68 L167.61,918.69 L169.60,917.72 L171.60,916.75 L173.61,915.79 L175.64,914.84 L177.67,913.89 L179.73,912.96 L181.79,912.03 L183.87,911.10 L185.96,910.19 L188.06,909.28 L190.18,908.38 L192.31,907.49 L194.45,906.60 L196.60,905.72 L198.77,904.85 L200.95,903.98 L203.14,903.12 L205.34,902.27 L207.56,901.42 L209.79,900.58 L212.03,899.74 L214.28,898.91 L216.55,898.09 L218.83,897.27 L221.12,896.46 L223.42,895.66 L225.73,894.86 L228.06,894.07 L230.40,893.28 L232.75,892.50 L235.11,891.72 L237.48,890.95 L239.87,890.18 L242.27,889.42 L244.68,888.67 L247.10,887.92 L249.53,887.17 L251.97,886.44 L254.43,885.70 L256.90,884.97 L259.37,884.25 L261.86,883.53 L264.37,882.81 L266.88,882.10 L269.40,881.39 L271.94,880.69 L274.48,880.00 L277.04,879.30 L279.61,878.62 L282.19,877.93 L284.78,877.25 L287.39,876.58 L290.00,875.91 L292.63,875.24 L295.26,874.58 L297.91,873.92 L300.57,873.27 L303.24,872.62 L305.92,871.97 L308.61,871.33 L311.31,870.69 L314.02,870.06 L316.74,869.43 L319.48,868.80 L322.22,868.18 L324.98,867.56 L327.74,866.94 L330.52,866.33 L333.31,865.72 L336.11,865.12 L338.92,864.52 L341.74,863.92 L344.56,863.32 L347.40,862.73 L350.26,862.14 L353.12,861.56 L355.99,860.98 L358.87,860.40 L361.76,859.82 L364.67,859.25 L367.58,858.68 L370.50,858.12 L373.44,857.55 L376.38,856.99 L379.33,856.44 L382.30,855.88 L385.27,855.33 L388.26,854.79 L391.25,854.24 L394.26,853.70 L397.27,853.16 L400.30,852.62 L403.33,852.09 L406.38,851.56 L409.43,851.03 L412.50,850.51 L415.57,849.98 L418.66,849.46 L421.75,848.95 L424.86,848.43 L427.97,847.92 L431.10,847.41 L434.23,846.90 L437.37,846.40 L440.53,845.89 L443.69,845.39 L446.86,844.90 L450.05,844.40 L453.24,843.91 L456.44,843.42 L459.66,842.93 L462.88,842.44 L466.11,841.96 L469.35,841.48 L472.60,841.00 L475.86,840.52 L479.13,840.05 L482.41,839.58 L485.70,839.11 L489.00,838.64 L492.31,838.17 L495.62,837.71 L498.95,837.25 L502.29,836.79 L505.63,836.33 L508.99,835.88 L512.35,835.42 L515.72,834.97 L519.11,834.52 L522.50,834.07" stroke="#ffff00"/>
</g>
<path d="M57.50,1013.35V1007.05M57.50,714.50V720.80M173.50,1013.35V1007.05M173.50,714.50V720.80M290.50,1013.35V1007.05M290.50,714.50V720.80M406.50,1013.35V1007.05M406.50,714.50V720.80M522.50,1013.35V1007.05M522.50,714.50V720.80M80.50,1013.35V1009.05M80.50,714.50V718.80M104.50,1013.35V1009.05M104.50,714.50V718.80M127.50,1013.35V1009.05M127.50,714.50V718.80M150.50,1013.35V1009.05M150.50,714.50V718.80M197.50,1013.35V1009.05M197.50,714.50V718.80M220.50,1013.35V1009.05M220.50,714.50V718.80M243.50,1013.35V1009.05M243.50,714.50V718.80M266.50,1013.35V1009.05M266.50,714.50V718.80M313.50,1013.35V1009.05M313.50,714.50V718.80M336.50,1013.35V1009.05M336.50,714.50V718.80M359.50,1013.35V1009.05M359.50,714.50V718.80M383.50,1013.35V1009.05M383.50,714.50V718.80M429.50,1013.35V1009.05M429.50,714.50V718.80M452.50,1013.35V1009.05M452.50,714.50V718.80M476.50,1013.35V1009.05M476.50,714.50V718.80M499.50,1013.35V1009.05M499.50,714.50V718.80M48.45,998.50H54.75M531.45,998.50H526.05M48.45,936.50H54.75M531.45,936.50H526.05M48.45,874.50H54.75M531.45,874.50H526.05M48.45,812.50H54.75M531.45,812.50H526.05M48.45,750.50H54.75M531.45,750.50H526.05M48.45,1013.50H52.75M531.45,1013.50H528.05M48.45,982.50H52.75M531.45,982.50H528.05M48.45,967.50H52.75M531.45,967.50H528.05M48.45,951.50H52.75M531.45,951.50H528.05M48.45,920.50H52.75M531.45,920.50H528.05M48.45,905.50H52.75M531.45,905.50H528.05M48.45,889.50H52.75M531.45,889.50H528.05M48.45,858.50H52.75M531.45,858.50H528.05M48.45,843.50H52.75M531.45,843.50H528.05M48.45,827.50H52.75M531.45,827.50H528.05M48.45,796.50H52.75M531.45,796.50H528.05M48.45,781.50H52.75M531.45,781.50H528.05M48.45,765.50H52.75M531.45,765.50H528.05M48.45,734.50H52.75M531.45,734.50H528.05M48.45,719.50H52.75M531.45,719.50H528.05" stroke="#000" stroke-width="1.05" fill="none"/>
<rect x="48.50" y="714.50" width="483.00" height="299.00" fill="none" stroke="#000" stroke-width="1.2"/>
<text transform="translate(57.50,1030.35) scale(1.080,1)" text-anchor="middle" class="t">0</text>
<text transform="translate(173.75,1030.35) scale(1.080,1)" text-anchor="middle" class="t">5</text>
<text transform="translate(290.00,1030.35) scale(1.080,1)" text-anchor="middle" class="t">10</text>
<text transform="translate(406.25,1030.35) scale(1.080,1)" text-anchor="middle" class="t">15</text>
<text transform="translate(522.50,1030.35) scale(1.080,1)" text-anchor="middle" class="t">20</text>
<text transform="translate(44.05,1002.50) scale(1.080,1)" text-anchor="end" class="t">0</text>
<text transform="translate(44.05,940.55) scale(1.080,1)" text-anchor="end" class="t">2</text>
<text transform="translate(44.05,878.60) scale(1.080,1)" text-anchor="end" class="t">4</text>
<text transform="translate(44.05,816.65) scale(1.080,1)" text-anchor="end" class="t">6</text>
<text transform="translate(44.05,754.70) scale(1.080,1)" text-anchor="end" class="t">8</text>
<text transform="translate(290.30,1055.50) scale(1.05,1)" text-anchor="middle" class="t">1/<tspan class="beta">β</tspan></text>
<text transform="translate(19.60,863.80) rotate(-90) scale(1.120,1)" text-anchor="middle" class="al">Entropy, S</text>
<text x="3.00" y="1036.50" class="pl">c)</text>
<path d="M393.00,789.40H424.00" stroke="#ff0000" stroke-width="2.90"/>
<text x="431.20" y="794.20" class="bi">B</text>
<path d="M445.90,788.00H454.70v1.3H445.90z M445.90,790.70H454.70v1.3H445.90z" fill="#000"/>
<text transform="translate(460.10,794.20) scale(1.060,1)" text-anchor="start" class="lg">1</text>
<path d="M393.00,819.22H424.00" stroke="#ff7f00" stroke-width="3.90"/>
<text x="431.20" y="824.02" class="bi">B</text>
<path d="M445.90,818.00H454.70v1.3H445.90z M445.90,820.70H454.70v1.3H445.90z" fill="#000"/>
<text transform="translate(460.10,824.02) scale(1.060,1)" text-anchor="start" class="lg">5</text>
<path d="M393.00,849.04H424.00" stroke="#00ff00" stroke-width="3.80"/>
<text x="431.20" y="853.84" class="bi">B</text>
<path d="M445.90,847.00H454.70v1.3H445.90z M445.90,849.70H454.70v1.3H445.90z" fill="#000"/>
<text transform="translate(460.10,853.84) scale(1.060,1)" text-anchor="start" class="lg">10</text>
<path d="M393.00,878.86H424.00" stroke="#0000ff" stroke-width="3.10"/>
<text x="431.20" y="883.66" class="bi">B</text>
<path d="M445.90,877.00H454.70v1.3H445.90z M445.90,879.70H454.70v1.3H445.90z" fill="#000"/>
<text transform="translate(460.10,883.66) scale(1.060,1)" text-anchor="start" class="lg">15</text>
<path d="M393.00,908.68H424.00" stroke="#00ffff" stroke-width="3.10"/>
<text x="431.20" y="913.48" class="bi">B</text>
<path d="M445.90,907.00H454.70v1.3H445.90z M445.90,909.70H454.70v1.3H445.90z" fill="#000"/>
<text transform="translate(460.10,913.48) scale(1.060,1)" text-anchor="start" class="lg">20</text>
<path d="M393.00,938.50H424.00" stroke="#ffff00" stroke-width="3.10"/>
<text x="431.20" y="943.30" class="bi">B</text>
<path d="M445.90,937.00H454.70v1.3H445.90z M445.90,939.70H454.70v1.3H445.90z" fill="#000"/>
<text transform="translate(460.10,943.30) scale(1.060,1)" text-anchor="start" class="lg">30</text>
<clipPath id="clipd"><rect x="57.65" y="1077.35" width="471.85" height="292.05"/></clipPath>
<g clip-path="url(#clipd)" fill="none" stroke-width="2.8" stroke-linejoin="round" stroke-linecap="round">
<path d="M67.42,1354.40 L67.50,1354.40 L67.67,1354.40 L67.90,1354.40 L68.17,1354.30 L68.49,1352.57 L68.86,1345.54 L69.26,1331.72 L69.69,1313.22 L70.16,1293.01 L70.67,1273.19 L71.20,1254.86 L71.77,1238.41 L72.36,1223.87 L72.98,1211.09 L73.63,1199.88 L74.31,1190.03 L75.01,1181.35 L75.73,1173.66 L76.49,1166.84 L77.26,1160.75 L78.06,1155.30 L78.88,1150.40 L79.73,1145.98 L80.59,1141.99 L81.48,1138.37 L82.39,1135.07 L83.32,1132.07 L84.28,1129.33 L85.25,1126.82 L86.24,1124.51 L87.26,1122.40 L88.29,1120.45 L89.35,1118.65 L90.42,1117.00 L91.51,1115.46 L92.62,1114.04 L93.75,1112.73 L94.90,1111.51 L96.06,1110.38 L97.25,1109.32 L98.45,1108.34 L99.67,1107.43 L100.91,1106.57 L102.16,1105.77 L103.43,1105.03 L104.72,1104.33 L106.03,1103.68 L107.35,1103.07 L108.69,1102.49 L110.04,1101.95 L111.42,1101.45 L112.80,1100.97 L114.21,1100.52 L115.63,1100.10 L117.06,1099.70 L118.52,1099.33 L119.98,1098.97 L121.47,1098.64 L122.97,1098.32 L124.48,1098.02 L126.01,1097.74 L127.55,1097.47 L129.11,1097.22 L130.69,1096.98 L132.28,1096.75 L133.88,1096.53 L135.50,1096.33 L137.13,1096.13 L138.78,1095.95 L140.44,1095.77 L142.12,1095.60 L143.81,1095.44 L145.51,1095.29 L147.23,1095.14 L148.96,1095.00 L150.71,1094.87 L152.47,1094.75 L154.24,1094.62 L156.03,1094.51 L157.83,1094.40 L159.65,1094.29 L161.48,1094.19 L163.32,1094.10 L165.17,1094.00 L167.04,1093.92 L168.92,1093.83 L170.82,1093.75 L172.73,1093.67 L174.65,1093.60 L176.58,1093.53 L178.53,1093.46 L180.49,1093.39 L182.46,1093.33 L184.45,1093.27 L186.44,1093.21 L188.46,1093.15 L190.48,1093.10 L192.52,1093.04 L194.56,1092.99 L196.62,1092.95 L198.70,1092.90 L200.78,1092.85 L202.88,1092.81 L204.99,1092.77 L207.12,1092.73 L209.25,1092.69 L211.40,1092.65 L213.56,1092.62 L215.73,1092.58 L217.91,1092.55 L220.10,1092.51 L222.31,1092.48 L224.53,1092.45 L226.76,1092.42 L229.00,1092.39 L231.26,1092.37 L233.52,1092.34 L235.80,1092.31 L238.09,1092.29 L240.39,1092.26 L242.70,1092.24 L245.02,1092.22 L247.36,1092.20 L249.71,1092.18 L252.06,1092.15 L254.43,1092.13 L256.81,1092.12 L259.20,1092.10 L261.61,1092.08 L264.02,1092.06 L266.45,1092.04 L268.88,1092.03 L271.33,1092.01 L273.79,1091.99 L276.26,1091.98 L278.74,1091.96 L281.23,1091.95 L283.73,1091.94 L286.25,1091.92 L288.77,1091.91 L291.31,1091.90 L293.85,1091.88 L296.41,1091.87 L298.98,1091.86 L301.55,1091.85 L304.14,1091.84 L306.74,1091.83 L309.35,1091.81 L311.97,1091.80 L314.60,1091.79 L317.25,1091.78 L319.90,1091.77 L322.56,1091.77 L325.23,1091.76 L327.92,1091.75 L330.61,1091.74 L333.32,1091.73 L336.03,1091.72 L338.76,1091.71 L341.49,1091.71 L344.24,1091.70 L346.99,1091.69 L349.76,1091.68 L352.54,1091.68 L355.32,1091.67 L358.12,1091.66 L360.93,1091.66 L363.75,1091.65 L366.57,1091.64 L369.41,1091.64 L372.26,1091.63 L375.11,1091.63 L377.98,1091.62 L380.86,1091.61 L383.75,1091.61 L386.64,1091.60 L389.55,1091.60 L392.47,1091.59 L395.39,1091.59 L398.33,1091.58 L401.28,1091.58 L404.23,1091.57 L407.20,1091.57 L410.17,1091.56 L413.16,1091.56 L416.15,1091.56 L419.16,1091.55 L422.17,1091.55 L425.20,1091.54 L428.23,1091.54 L431.27,1091.54 L434.33,1091.53 L437.39,1091.53 L440.46,1091.53 L443.54,1091.52 L446.63,1091.52 L449.73,1091.51 L452.84,1091.51 L455.96,1091.51 L459.09,1091.50 L462.23,1091.50 L465.38,1091.50 L468.53,1091.50 L471.70,1091.49 L474.87,1091.49 L478.06,1091.49 L481.25,1091.48 L484.46,1091.48 L487.67,1091.48 L490.89,1091.48 L494.12,1091.47 L497.36,1091.47 L500.61,1091.47 L503.87,1091.47 L507.14,1091.46 L510.41,1091.46 L513.70,1091.46 L517.00,1091.46 L520.30,1091.45" stroke="#ff0000"/>
<path d="M67.42,1354.40 L67.50,1354.40 L67.67,1354.40 L67.90,1354.40 L68.17,1354.40 L68.49,1354.40 L68.86,1354.38 L69.26,1354.19 L69.69,1353.22 L70.16,1350.53 L70.67,1345.38 L71.20,1337.66 L71.77,1327.80 L72.36,1316.49 L72.98,1304.39 L73.63,1292.09 L74.31,1279.97 L75.01,1268.32 L75.73,1257.27 L76.49,1246.92 L77.26,1237.28 L78.06,1228.34 L78.88,1220.07 L79.73,1212.42 L80.59,1205.36 L81.48,1198.84 L82.39,1192.81 L83.32,1187.22 L84.28,1182.04 L85.25,1177.23 L86.24,1172.76 L87.26,1168.60 L88.29,1164.72 L89.35,1161.09 L90.42,1157.70 L91.51,1154.53 L92.62,1151.55 L93.75,1148.75 L94.90,1146.13 L96.06,1143.66 L97.25,1141.33 L98.45,1139.13 L99.67,1137.06 L100.91,1135.10 L102.16,1133.25 L103.43,1131.50 L104.72,1129.84 L106.03,1128.27 L107.35,1126.78 L108.69,1125.36 L110.04,1124.02 L111.42,1122.74 L112.80,1121.53 L114.21,1120.37 L115.63,1119.28 L117.06,1118.23 L118.52,1117.23 L119.98,1116.28 L121.47,1115.37 L122.97,1114.50 L124.48,1113.68 L126.01,1112.88 L127.55,1112.13 L129.11,1111.41 L130.69,1110.72 L132.28,1110.05 L133.88,1109.42 L135.50,1108.82 L137.13,1108.23 L138.78,1107.68 L140.44,1107.14 L142.12,1106.63 L143.81,1106.14 L145.51,1105.67 L147.23,1105.22 L148.96,1104.78 L150.71,1104.37 L152.47,1103.96 L154.24,1103.58 L156.03,1103.21 L157.83,1102.85 L159.65,1102.51 L161.48,1102.18 L163.32,1101.86 L165.17,1101.55 L167.04,1101.26 L168.92,1100.97 L170.82,1100.70 L172.73,1100.43 L174.65,1100.18 L176.58,1099.93 L178.53,1099.69 L180.49,1099.46 L182.46,1099.24 L184.45,1099.03 L186.44,1098.82 L188.46,1098.62 L190.48,1098.43 L192.52,1098.24 L194.56,1098.06 L196.62,1097.89 L198.70,1097.72 L200.78,1097.56 L202.88,1097.40 L204.99,1097.25 L207.12,1097.10 L209.25,1096.96 L211.40,1096.82 L213.56,1096.68 L215.73,1096.55 L217.91,1096.43 L220.10,1096.30 L222.31,1096.19 L224.53,1096.07 L226.76,1095.96 L229.00,1095.85 L231.26,1095.74 L233.52,1095.64 L235.80,1095.54 L238.09,1095.45 L240.39,1095.35 L242.70,1095.26 L245.02,1095.18 L247.36,1095.09 L249.71,1095.01 L252.06,1094.93 L254.43,1094.85 L256.81,1094.77 L259.20,1094.70 L261.61,1094.62 L264.02,1094.55 L266.45,1094.49 L268.88,1094.42 L271.33,1094.35 L273.79,1094.29 L276.26,1094.23 L278.74,1094.17 L281.23,1094.11 L283.73,1094.05 L286.25,1094.00 L288.77,1093.95 L291.31,1093.89 L293.85,1093.84 L296.41,1093.79 L298.98,1093.74 L301.55,1093.70 L304.14,1093.65 L306.74,1093.61 L309.35,1093.56 L311.97,1093.52 L314.60,1093.48 L317.25,1093.44 L319.90,1093.40 L322.56,1093.36 L325.23,1093.32 L327.92,1093.28 L330.61,1093.25 L333.32,1093.21 L336.03,1093.18 L338.76,1093.14 L341.49,1093.11 L344.24,1093.08 L346.99,1093.05 L349.76,1093.02 L352.54,1092.99 L355.32,1092.96 L358.12,1092.93 L360.93,1092.90 L363.75,1092.87 L366.57,1092.84 L369.41,1092.82 L372.26,1092.79 L375.11,1092.77 L377.98,1092.74 L380.86,1092.72 L383.75,1092.70 L386.64,1092.67 L389.55,1092.65 L392.47,1092.63 L395.39,1092.61 L398.33,1092.59 L401.28,1092.56 L404.23,1092.54 L407.20,1092.52 L410.17,1092.51 L413.16,1092.49 L416.15,1092.47 L419.16,1092.45 L422.17,1092.43 L425.20,1092.41 L428.23,1092.40 L431.27,1092.38 L434.33,1092.36 L437.39,1092.35 L440.46,1092.33 L443.54,1092.32 L446.63,1092.30 L449.73,1092.29 L452.84,1092.27 L455.96,1092.26 L459.09,1092.24 L462.23,1092.23 L465.38,1092.22 L468.53,1092.20 L471.70,1092.19 L474.87,1092.18 L478.06,1092.16 L481.25,1092.15 L484.46,1092.14 L487.67,1092.13 L490.89,1092.12 L494.12,1092.10 L497.36,1092.09 L500.61,1092.08 L503.87,1092.07 L507.14,1092.06 L510.41,1092.05 L513.70,1092.04 L517.00,1092.03 L520.30,1092.02" stroke="#ff7f00"/>
<path d="M67.42,1354.40 L67.50,1354.40 L67.67,1354.40 L67.90,1354.40 L68.17,1354.40 L68.49,1354.40 L68.86,1354.40 L69.26,1354.40 L69.69,1354.35 L70.16,1354.07 L70.67,1353.16 L71.20,1351.10 L71.77,1347.48 L72.36,1342.16 L72.98,1335.27 L73.63,1327.08 L74.31,1317.98 L75.01,1308.33 L75.73,1298.43 L76.49,1288.54 L77.26,1278.84 L78.06,1269.45 L78.88,1260.45 L79.73,1251.89 L80.59,1243.78 L81.48,1236.14 L82.39,1228.96 L83.32,1222.21 L84.28,1215.87 L85.25,1209.93 L86.24,1204.35 L87.26,1199.12 L88.29,1194.21 L89.35,1189.59 L90.42,1185.25 L91.51,1181.16 L92.62,1177.31 L93.75,1173.68 L94.90,1170.26 L96.06,1167.02 L97.25,1163.96 L98.45,1161.06 L99.67,1158.31 L100.91,1155.71 L102.16,1153.24 L103.43,1150.89 L104.72,1148.66 L106.03,1146.53 L107.35,1144.51 L108.69,1142.59 L110.04,1140.75 L111.42,1139.00 L112.80,1137.33 L114.21,1135.73 L115.63,1134.21 L117.06,1132.75 L118.52,1131.35 L119.98,1130.01 L121.47,1128.73 L122.97,1127.51 L124.48,1126.33 L126.01,1125.21 L127.55,1124.13 L129.11,1123.09 L130.69,1122.09 L132.28,1121.14 L133.88,1120.22 L135.50,1119.33 L137.13,1118.48 L138.78,1117.67 L140.44,1116.88 L142.12,1116.12 L143.81,1115.39 L145.51,1114.69 L147.23,1114.02 L148.96,1113.36 L150.71,1112.74 L152.47,1112.13 L154.24,1111.55 L156.03,1110.98 L157.83,1110.44 L159.65,1109.91 L161.48,1109.41 L163.32,1108.92 L165.17,1108.44 L167.04,1107.99 L168.92,1107.54 L170.82,1107.12 L172.73,1106.70 L174.65,1106.30 L176.58,1105.92 L178.53,1105.54 L180.49,1105.18 L182.46,1104.83 L184.45,1104.49 L186.44,1104.16 L188.46,1103.85 L190.48,1103.54 L192.52,1103.24 L194.56,1102.95 L196.62,1102.67 L198.70,1102.40 L200.78,1102.13 L202.88,1101.88 L204.99,1101.63 L207.12,1101.39 L209.25,1101.15 L211.40,1100.93 L213.56,1100.71 L215.73,1100.49 L217.91,1100.28 L220.10,1100.08 L222.31,1099.89 L224.53,1099.70 L226.76,1099.51 L229.00,1099.33 L231.26,1099.16 L233.52,1098.99 L235.80,1098.82 L238.09,1098.66 L240.39,1098.50 L242.70,1098.35 L245.02,1098.20 L247.36,1098.06 L249.71,1097.92 L252.06,1097.78 L254.43,1097.65 L256.81,1097.52 L259.20,1097.39 L261.61,1097.27 L264.02,1097.15 L266.45,1097.03 L268.88,1096.92 L271.33,1096.80 L273.79,1096.70 L276.26,1096.59 L278.74,1096.49 L281.23,1096.39 L283.73,1096.29 L286.25,1096.19 L288.77,1096.10 L291.31,1096.01 L293.85,1095.92 L296.41,1095.83 L298.98,1095.75 L301.55,1095.67 L304.14,1095.59 L306.74,1095.51 L309.35,1095.43 L311.97,1095.36 L314.60,1095.28 L317.25,1095.21 L319.90,1095.14 L322.56,1095.07 L325.23,1095.01 L327.92,1094.94 L330.61,1094.88 L333.32,1094.81 L336.03,1094.75 L338.76,1094.69 L341.49,1094.64 L344.24,1094.58 L346.99,1094.52 L349.76,1094.47 L352.54,1094.42 L355.32,1094.36 L358.12,1094.31 L360.93,1094.26 L363.75,1094.21 L366.57,1094.16 L369.41,1094.12 L372.26,1094.07 L375.11,1094.03 L377.98,1093.98 L380.86,1093.94 L383.75,1093.90 L386.64,1093.86 L389.55,1093.82 L392.47,1093.78 L395.39,1093.74 L398.33,1093.70 L401.28,1093.66 L404.23,1093.63 L407.20,1093.59 L410.17,1093.55 L413.16,1093.52 L416.15,1093.49 L419.16,1093.45 L422.17,1093.42 L425.20,1093.39 L428.23,1093.36 L431.27,1093.33 L434.33,1093.30 L437.39,1093.27 L440.46,1093.24 L443.54,1093.21 L446.63,1093.18 L449.73,1093.15 L452.84,1093.13 L455.96,1093.10 L459.09,1093.08 L462.23,1093.05 L465.38,1093.03 L468.53,1093.00 L471.70,1092.98 L474.87,1092.95 L478.06,1092.93 L481.25,1092.91 L484.46,1092.89 L487.67,1092.86 L490.89,1092.84 L494.12,1092.82 L497.36,1092.80 L500.61,1092.78 L503.87,1092.76 L507.14,1092.74 L510.41,1092.72 L513.70,1092.70 L517.00,1092.68 L520.30,1092.67" stroke="#00ff00"/>
<path d="M67.42,1354.40 L67.50,1354.40 L67.67,1354.40 L67.90,1354.40 L68.17,1354.40 L68.49,1354.40 L68.86,1354.40 L69.26,1354.40 L69.69,1354.40 L70.16,1354.36 L70.67,1354.16 L71.20,1353.55 L71.77,1352.17 L72.36,1349.69 L72.98,1345.93 L73.63,1340.85 L74.31,1334.58 L75.01,1327.34 L75.73,1319.37 L76.49,1310.94 L77.26,1302.26 L78.06,1293.52 L78.88,1284.86 L79.73,1276.38 L80.59,1268.17 L81.48,1260.27 L82.39,1252.71 L83.32,1245.51 L84.28,1238.67 L85.25,1232.18 L86.24,1226.03 L87.26,1220.22 L88.29,1214.73 L89.35,1209.54 L90.42,1204.63 L91.51,1199.98 L92.62,1195.59 L93.75,1191.44 L94.90,1187.50 L96.06,1183.77 L97.25,1180.24 L98.45,1176.88 L99.67,1173.69 L100.91,1170.66 L102.16,1167.78 L103.43,1165.04 L104.72,1162.42 L106.03,1159.93 L107.35,1157.56 L108.69,1155.29 L110.04,1153.13 L111.42,1151.06 L112.80,1149.08 L114.21,1147.18 L115.63,1145.37 L117.06,1143.63 L118.52,1141.97 L119.98,1140.37 L121.47,1138.84 L122.97,1137.37 L124.48,1135.96 L126.01,1134.60 L127.55,1133.30 L129.11,1132.04 L130.69,1130.84 L132.28,1129.67 L133.88,1128.56 L135.50,1127.48 L137.13,1126.44 L138.78,1125.44 L140.44,1124.48 L142.12,1123.55 L143.81,1122.66 L145.51,1121.79 L147.23,1120.96 L148.96,1120.15 L150.71,1119.37 L152.47,1118.62 L154.24,1117.90 L156.03,1117.19 L157.83,1116.51 L159.65,1115.86 L161.48,1115.22 L163.32,1114.61 L165.17,1114.01 L167.04,1113.44 L168.92,1112.88 L170.82,1112.34 L172.73,1111.82 L174.65,1111.31 L176.58,1110.82 L178.53,1110.35 L180.49,1109.89 L182.46,1109.44 L184.45,1109.01 L186.44,1108.59 L188.46,1108.18 L190.48,1107.78 L192.52,1107.40 L194.56,1107.03 L196.62,1106.66 L198.70,1106.31 L200.78,1105.97 L202.88,1105.64 L204.99,1105.32 L207.12,1105.01 L209.25,1104.70 L211.40,1104.41 L213.56,1104.12 L215.73,1103.84 L217.91,1103.57 L220.10,1103.30 L222.31,1103.05 L224.53,1102.79 L226.76,1102.55 L229.00,1102.31 L231.26,1102.08 L233.52,1101.86 L235.80,1101.64 L238.09,1101.43 L240.39,1101.22 L242.70,1101.02 L245.02,1100.82 L247.36,1100.63 L249.71,1100.44 L252.06,1100.26 L254.43,1100.08 L256.81,1099.91 L259.20,1099.74 L261.61,1099.58 L264.02,1099.41 L266.45,1099.26 L268.88,1099.11 L271.33,1098.96 L273.79,1098.81 L276.26,1098.67 L278.74,1098.53 L281.23,1098.40 L283.73,1098.26 L286.25,1098.13 L288.77,1098.01 L291.31,1097.89 L293.85,1097.77 L296.41,1097.65 L298.98,1097.53 L301.55,1097.42 L304.14,1097.31 L306.74,1097.21 L309.35,1097.10 L311.97,1097.00 L314.60,1096.90 L317.25,1096.80 L319.90,1096.71 L322.56,1096.61 L325.23,1096.52 L327.92,1096.43 L330.61,1096.34 L333.32,1096.26 L336.03,1096.18 L338.76,1096.09 L341.49,1096.01 L344.24,1095.94 L346.99,1095.86 L349.76,1095.78 L352.54,1095.71 L355.32,1095.64 L358.12,1095.57 L360.93,1095.50 L363.75,1095.43 L366.57,1095.36 L369.41,1095.30 L372.26,1095.24 L375.11,1095.17 L377.98,1095.11 L380.86,1095.05 L383.75,1095.00 L386.64,1094.94 L389.55,1094.88 L392.47,1094.83 L395.39,1094.77 L398.33,1094.72 L401.28,1094.67 L404.23,1094.62 L407.20,1094.57 L410.17,1094.52 L413.16,1094.47 L416.15,1094.42 L419.16,1094.38 L422.17,1094.33 L425.20,1094.29 L428.23,1094.24 L431.27,1094.20 L434.33,1094.16 L437.39,1094.12 L440.46,1094.08 L443.54,1094.04 L446.63,1094.00 L449.73,1093.96 L452.84,1093.92 L455.96,1093.88 L459.09,1093.85 L462.23,1093.81 L465.38,1093.78 L468.53,1093.74 L471.70,1093.71 L474.87,1093.68 L478.06,1093.64 L481.25,1093.61 L484.46,1093.58 L487.67,1093.55 L490.89,1093.52 L494.12,1093.49 L497.36,1093.46 L500.61,1093.43 L503.87,1093.40 L507.14,1093.38 L510.41,1093.35 L513.70,1093.32 L517.00,1093.30 L520.30,1093.27" stroke="#0000ff"/>
<path d="M67.42,1354.40 L67.50,1354.40 L67.67,1354.40 L67.90,1354.40 L68.17,1354.40 L68.49,1354.40 L68.86,1354.40 L69.26,1354.40 L69.69,1354.40 L70.16,1354.39 L70.67,1354.34 L71.20,1354.14 L71.77,1353.58 L72.36,1352.39 L72.98,1350.31 L73.63,1347.18 L74.31,1342.93 L75.01,1337.64 L75.73,1331.44 L76.49,1324.52 L77.26,1317.08 L78.06,1309.30 L78.88,1301.35 L79.73,1293.36 L80.59,1285.43 L81.48,1277.67 L82.39,1270.11 L83.32,1262.80 L84.28,1255.78 L85.25,1249.04 L86.24,1242.61 L87.26,1236.48 L88.29,1230.64 L89.35,1225.08 L90.42,1219.81 L91.51,1214.79 L92.62,1210.03 L93.75,1205.51 L94.90,1201.21 L96.06,1197.13 L97.25,1193.25 L98.45,1189.55 L99.67,1186.04 L100.91,1182.69 L102.16,1179.50 L103.43,1176.46 L104.72,1173.56 L106.03,1170.79 L107.35,1168.14 L108.69,1165.62 L110.04,1163.20 L111.42,1160.88 L112.80,1158.67 L114.21,1156.55 L115.63,1154.51 L117.06,1152.56 L118.52,1150.69 L119.98,1148.89 L121.47,1147.16 L122.97,1145.50 L124.48,1143.91 L126.01,1142.37 L127.55,1140.89 L129.11,1139.47 L130.69,1138.10 L132.28,1136.78 L133.88,1135.51 L135.50,1134.28 L137.13,1133.10 L138.78,1131.96 L140.44,1130.86 L142.12,1129.80 L143.81,1128.77 L145.51,1127.78 L147.23,1126.82 L148.96,1125.89 L150.71,1124.99 L152.47,1124.13 L154.24,1123.29 L156.03,1122.48 L157.83,1121.69 L159.65,1120.93 L161.48,1120.19 L163.32,1119.48 L165.17,1118.79 L167.04,1118.12 L168.92,1117.47 L170.82,1116.84 L172.73,1116.23 L174.65,1115.64 L176.58,1115.06 L178.53,1114.50 L180.49,1113.96 L182.46,1113.44 L184.45,1112.93 L186.44,1112.43 L188.46,1111.95 L190.48,1111.49 L192.52,1111.03 L194.56,1110.59 L196.62,1110.16 L198.70,1109.75 L200.78,1109.34 L202.88,1108.95 L204.99,1108.56 L207.12,1108.19 L209.25,1107.83 L211.40,1107.48 L213.56,1107.13 L215.73,1106.80 L217.91,1106.47 L220.10,1106.16 L222.31,1105.85 L224.53,1105.55 L226.76,1105.26 L229.00,1104.97 L231.26,1104.69 L233.52,1104.42 L235.80,1104.16 L238.09,1103.90 L240.39,1103.65 L242.70,1103.41 L245.02,1103.17 L247.36,1102.94 L249.71,1102.71 L252.06,1102.49 L254.43,1102.28 L256.81,1102.07 L259.20,1101.86 L261.61,1101.66 L264.02,1101.46 L266.45,1101.27 L268.88,1101.09 L271.33,1100.91 L273.79,1100.73 L276.26,1100.56 L278.74,1100.39 L281.23,1100.22 L283.73,1100.06 L286.25,1099.90 L288.77,1099.75 L291.31,1099.60 L293.85,1099.45 L296.41,1099.30 L298.98,1099.16 L301.55,1099.03 L304.14,1098.89 L306.74,1098.76 L309.35,1098.63 L311.97,1098.50 L314.60,1098.38 L317.25,1098.26 L319.90,1098.14 L322.56,1098.03 L325.23,1097.92 L327.92,1097.80 L330.61,1097.70 L333.32,1097.59 L336.03,1097.49 L338.76,1097.39 L341.49,1097.29 L344.24,1097.19 L346.99,1097.09 L349.76,1097.00 L352.54,1096.91 L355.32,1096.82 L358.12,1096.73 L360.93,1096.65 L363.75,1096.56 L366.57,1096.48 L369.41,1096.40 L372.26,1096.32 L375.11,1096.24 L377.98,1096.17 L380.86,1096.09 L383.75,1096.02 L386.64,1095.95 L389.55,1095.88 L392.47,1095.81 L395.39,1095.74 L398.33,1095.67 L401.28,1095.61 L404.23,1095.54 L407.20,1095.48 L410.17,1095.42 L413.16,1095.36 L416.15,1095.30 L419.16,1095.24 L422.17,1095.18 L425.20,1095.13 L428.23,1095.07 L431.27,1095.02 L434.33,1094.97 L437.39,1094.91 L440.46,1094.86 L443.54,1094.81 L446.63,1094.76 L449.73,1094.72 L452.84,1094.67 L455.96,1094.62 L459.09,1094.58 L462.23,1094.53 L465.38,1094.49 L468.53,1094.44 L471.70,1094.40 L474.87,1094.36 L478.06,1094.32 L481.25,1094.28 L484.46,1094.24 L487.67,1094.20 L490.89,1094.16 L494.12,1094.12 L497.36,1094.09 L500.61,1094.05 L503.87,1094.01 L507.14,1093.98 L510.41,1093.94 L513.70,1093.91 L517.00,1093.88 L520.30,1093.84" stroke="#00ffff"/>
<path d="M67.42,1354.40 L67.50,1354.40 L67.67,1354.40 L67.90,1354.40 L68.17,1354.40 L68.49,1354.40 L68.86,1354.40 L69.26,1354.40 L69.69,1354.40 L70.16,1354.40 L70.67,1354.40 L71.20,1354.37 L71.77,1354.26 L72.36,1353.95 L72.98,1353.27 L73.63,1352.04 L74.31,1350.08 L75.01,1347.29 L75.73,1343.63 L76.49,1339.15 L77.26,1333.93 L78.06,1328.09 L78.88,1321.77 L79.73,1315.10 L80.59,1308.20 L81.48,1301.19 L82.39,1294.15 L83.32,1287.15 L84.28,1280.26 L85.25,1273.52 L86.24,1266.97 L87.26,1260.62 L88.29,1254.49 L89.35,1248.59 L90.42,1242.93 L91.51,1237.49 L92.62,1232.29 L93.75,1227.31 L94.90,1222.55 L96.06,1218.00 L97.25,1213.65 L98.45,1209.49 L99.67,1205.52 L100.91,1201.72 L102.16,1198.09 L103.43,1194.62 L104.72,1191.29 L106.03,1188.11 L107.35,1185.07 L108.69,1182.15 L110.04,1179.36 L111.42,1176.68 L112.80,1174.10 L114.21,1171.64 L115.63,1169.27 L117.06,1166.99 L118.52,1164.80 L119.98,1162.70 L121.47,1160.67 L122.97,1158.72 L124.48,1156.85 L126.01,1155.04 L127.55,1153.30 L129.11,1151.62 L130.69,1149.99 L132.28,1148.43 L133.88,1146.92 L135.50,1145.46 L137.13,1144.06 L138.78,1142.70 L140.44,1141.38 L142.12,1140.11 L143.81,1138.88 L145.51,1137.69 L147.23,1136.54 L148.96,1135.42 L150.71,1134.34 L152.47,1133.30 L154.24,1132.28 L156.03,1131.30 L157.83,1130.35 L159.65,1129.42 L161.48,1128.53 L163.32,1127.66 L165.17,1126.82 L167.04,1126.00 L168.92,1125.20 L170.82,1124.43 L172.73,1123.68 L174.65,1122.95 L176.58,1122.25 L178.53,1121.56 L180.49,1120.89 L182.46,1120.24 L184.45,1119.61 L186.44,1119.00 L188.46,1118.40 L190.48,1117.82 L192.52,1117.26 L194.56,1116.71 L196.62,1116.17 L198.70,1115.65 L200.78,1115.14 L202.88,1114.65 L204.99,1114.17 L207.12,1113.70 L209.25,1113.24 L211.40,1112.80 L213.56,1112.36 L215.73,1111.94 L217.91,1111.53 L220.10,1111.13 L222.31,1110.74 L224.53,1110.35 L226.76,1109.98 L229.00,1109.62 L231.26,1109.26 L233.52,1108.92 L235.80,1108.58 L238.09,1108.25 L240.39,1107.93 L242.70,1107.62 L245.02,1107.31 L247.36,1107.01 L249.71,1106.72 L252.06,1106.43 L254.43,1106.16 L256.81,1105.88 L259.20,1105.62 L261.61,1105.36 L264.02,1105.11 L266.45,1104.86 L268.88,1104.61 L271.33,1104.38 L273.79,1104.15 L276.26,1103.92 L278.74,1103.70 L281.23,1103.48 L283.73,1103.27 L286.25,1103.06 L288.77,1102.86 L291.31,1102.66 L293.85,1102.47 L296.41,1102.28 L298.98,1102.09 L301.55,1101.91 L304.14,1101.74 L306.74,1101.56 L309.35,1101.39 L311.97,1101.22 L314.60,1101.06 L317.25,1100.90 L319.90,1100.74 L322.56,1100.59 L325.23,1100.44 L327.92,1100.29 L330.61,1100.15 L333.32,1100.01 L336.03,1099.87 L338.76,1099.73 L341.49,1099.60 L344.24,1099.47 L346.99,1099.34 L349.76,1099.22 L352.54,1099.10 L355.32,1098.98 L358.12,1098.86 L360.93,1098.74 L363.75,1098.63 L366.57,1098.52 L369.41,1098.41 L372.26,1098.30 L375.11,1098.20 L377.98,1098.10 L380.86,1097.99 L383.75,1097.90 L386.64,1097.80 L389.55,1097.70 L392.47,1097.61 L395.39,1097.52 L398.33,1097.43 L401.28,1097.34 L404.23,1097.25 L407.20,1097.17 L410.17,1097.08 L413.16,1097.00 L416.15,1096.92 L419.16,1096.84 L422.17,1096.76 L425.20,1096.69 L428.23,1096.61 L431.27,1096.54 L434.33,1096.47 L437.39,1096.40 L440.46,1096.33 L443.54,1096.26 L446.63,1096.19 L449.73,1096.12 L452.84,1096.06 L455.96,1095.99 L459.09,1095.93 L462.23,1095.87 L465.38,1095.81 L468.53,1095.75 L471.70,1095.69 L474.87,1095.63 L478.06,1095.58 L481.25,1095.52 L484.46,1095.47 L487.67,1095.41 L490.89,1095.36 L494.12,1095.31 L497.36,1095.25 L500.61,1095.20 L503.87,1095.15 L507.14,1095.11 L510.41,1095.06 L513.70,1095.01 L517.00,1094.96 L520.30,1094.92" stroke="#ffff00"/>
</g>
<path d="M67.50,1369.40V1363.20M67.50,1077.35V1083.55M180.50,1369.40V1363.20M180.50,1077.35V1083.55M293.50,1369.40V1363.20M293.50,1077.35V1083.55M407.50,1369.40V1363.20M407.50,1077.35V1083.55M520.50,1369.40V1363.20M520.50,1077.35V1083.55M90.50,1369.40V1365.30M90.50,1077.35V1081.45M112.50,1369.40V1365.30M112.50,1077.35V1081.45M135.50,1369.40V1365.30M135.50,1077.35V1081.45M157.50,1369.40V1365.30M157.50,1077.35V1081.45M203.50,1369.40V1365.30M203.50,1077.35V1081.45M225.50,1369.40V1365.30M225.50,1077.35V1081.45M248.50,1369.40V1365.30M248.50,1077.35V1081.45M271.50,1369.40V1365.30M271.50,1077.35V1081.45M316.50,1369.40V1365.30M316.50,1077.35V1081.45M339.50,1369.40V1365.30M339.50,1077.35V1081.45M361.50,1369.40V1365.30M361.50,1077.35V1081.45M384.50,1369.40V1365.30M384.50,1077.35V1081.45M429.50,1369.40V1365.30M429.50,1077.35V1081.45M452.50,1369.40V1365.30M452.50,1077.35V1081.45M475.50,1369.40V1365.30M475.50,1077.35V1081.45M497.50,1369.40V1365.30M497.50,1077.35V1081.45M57.65,1354.50H63.85M529.50,1354.50H524.20M57.65,1288.50H63.85M529.50,1288.50H524.20M57.65,1222.50H63.85M529.50,1222.50H524.20M57.65,1157.50H63.85M529.50,1157.50H524.20M57.65,1091.50H63.85M529.50,1091.50H524.20M57.65,1367.50H61.75M529.50,1367.50H526.30M57.65,1341.50H61.75M529.50,1341.50H526.30M57.65,1328.50H61.75M529.50,1328.50H526.30M57.65,1314.50H61.75M529.50,1314.50H526.30M57.65,1301.50H61.75M529.50,1301.50H526.30M57.65,1275.50H61.75M529.50,1275.50H526.30M57.65,1262.50H61.75M529.50,1262.50H526.30M57.65,1249.50H61.75M529.50,1249.50H526.30M57.65,1236.50H61.75M529.50,1236.50H526.30M57.65,1209.50H61.75M529.50,1209.50H526.30M57.65,1196.50H61.75M529.50,1196.50H526.30M57.65,1183.50H61.75M529.50,1183.50H526.30M57.65,1170.50H61.75M529.50,1170.50H526.30M57.65,1143.50H61.75M529.50,1143.50H526.30M57.65,1130.50H61.75M529.50,1130.50H526.30M57.65,1117.50H61.75M529.50,1117.50H526.30M57.65,1104.50H61.75M529.50,1104.50H526.30M57.65,1078.50H61.75M529.50,1078.50H526.30" stroke="#000" stroke-width="1.05" fill="none"/>
<rect x="57.50" y="1077.50" width="472.00" height="292.00" fill="none" stroke="#000" stroke-width="1.2"/>
<text transform="translate(67.40,1386.40) scale(1.080,1)" text-anchor="middle" class="t">0</text>
<text transform="translate(180.62,1386.40) scale(1.080,1)" text-anchor="middle" class="t">5</text>
<text transform="translate(293.85,1386.40) scale(1.080,1)" text-anchor="middle" class="t">10</text>
<text transform="translate(407.08,1386.40) scale(1.080,1)" text-anchor="middle" class="t">15</text>
<text transform="translate(520.30,1386.40) scale(1.080,1)" text-anchor="middle" class="t">20</text>
<text transform="translate(52.95,1358.70) scale(1.080,1)" text-anchor="end" class="t">0.0</text>
<text transform="translate(52.95,1292.92) scale(1.080,1)" text-anchor="end" class="t">0.5</text>
<text transform="translate(52.95,1227.15) scale(1.080,1)" text-anchor="end" class="t">1.0</text>
<text transform="translate(52.95,1161.37) scale(1.080,1)" text-anchor="end" class="t">1.5</text>
<text transform="translate(52.95,1095.60) scale(1.080,1)" text-anchor="end" class="t">2.0</text>
<text transform="translate(293.60,1411.50) scale(1.05,1)" text-anchor="middle" class="t">1/<tspan class="beta">β</tspan></text>
<text transform="translate(19.60,1223.20) rotate(-90) scale(1.080,1)" text-anchor="middle" class="al">Specific heat, Cv</text>
<text x="4.50" y="1413.00" class="pl">d)</text>
<path d="M394.00,1148.40H424.00" stroke="#ff0000" stroke-width="3.00"/>
<text x="430.70" y="1153.10" class="bi">B</text>
<path d="M445.40,1147.00H454.20v1.3H445.40z M445.40,1149.70H454.20v1.3H445.40z" fill="#000"/>
<text transform="translate(459.60,1153.10) scale(1.060,1)" text-anchor="start" class="lg">1</text>
<path d="M394.00,1178.22H424.00" stroke="#ff7f00" stroke-width="2.80"/>
<text x="430.70" y="1182.92" class="bi">B</text>
<path d="M445.40,1177.00H454.20v1.3H445.40z M445.40,1179.70H454.20v1.3H445.40z" fill="#000"/>
<text transform="translate(459.60,1182.92) scale(1.060,1)" text-anchor="start" class="lg">5</text>
<path d="M394.00,1208.04H424.00" stroke="#00ff00" stroke-width="2.90"/>
<text x="430.70" y="1212.74" class="bi">B</text>
<path d="M445.40,1206.00H454.20v1.3H445.40z M445.40,1208.70H454.20v1.3H445.40z" fill="#000"/>
<text transform="translate(459.60,1212.74) scale(1.060,1)" text-anchor="start" class="lg">10</text>
<path d="M394.00,1237.86H424.00" stroke="#0000ff" stroke-width="4.00"/>
<text x="430.70" y="1242.56" class="bi">B</text>
<path d="M445.40,1236.00H454.20v1.3H445.40z M445.40,1238.70H454.20v1.3H445.40z" fill="#000"/>
<text transform="translate(459.60,1242.56) scale(1.060,1)" text-anchor="start" class="lg">15</text>
<path d="M394.00,1267.68H424.00" stroke="#00ffff" stroke-width="4.20"/>
<text x="430.70" y="1272.38" class="bi">B</text>
<path d="M445.40,1266.00H454.20v1.3H445.40z M445.40,1268.70H454.20v1.3H445.40z" fill="#000"/>
<text transform="translate(459.60,1272.38) scale(1.060,1)" text-anchor="start" class="lg">20</text>
<path d="M394.00,1297.50H424.00" stroke="#ffff00" stroke-width="2.90"/>
<text x="430.70" y="1302.20" class="bi">B</text>
<path d="M445.40,1296.00H454.20v1.3H445.40z M445.40,1298.70H454.20v1.3H445.40z" fill="#000"/>
<text transform="translate(459.60,1302.20) scale(1.060,1)" text-anchor="start" class="lg">30</text>
</svg></body></html>
